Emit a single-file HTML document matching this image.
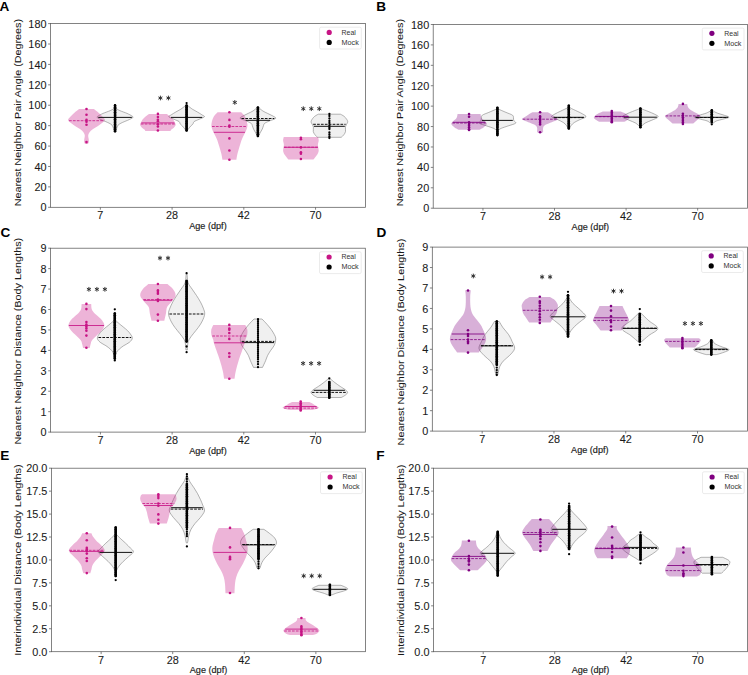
<!DOCTYPE html>
<html><head><meta charset="utf-8"><style>
html,body{margin:0;padding:0;background:#fff;}
svg{display:block;}
text{font-family:"Liberation Sans", sans-serif;fill:#1a1a1a;}
.tk{font-size:10.2px;stroke:#1a1a1a;stroke-width:0.08px;}
.xl{font-size:8.5px;stroke:#1a1a1a;stroke-width:0.15px;}
.yl{font-size:9.8px;stroke:#1a1a1a;stroke-width:0.05px;}
.lg{font-size:6.8px;fill:#333;}
.pl{font-size:13.6px;font-weight:bold;fill:#000;}
.ax{stroke:#5a5a5a;stroke-width:0.75;}
.fr{fill:none;stroke:#5a5a5a;stroke-width:0.75;}
</style></head><body>
<svg width="748" height="675" viewBox="0 0 748 675">
<path d="M114.05,108.60 L116.05,108.60 C116.72,108.95 118.22,109.90 120.05,110.70 C121.88,111.50 125.07,112.52 127.05,113.40 C129.03,114.28 130.98,115.30 131.95,116.00 C132.92,116.70 133.57,116.88 132.85,117.60 C132.13,118.32 129.40,119.48 127.65,120.30 C125.90,121.12 123.95,121.70 122.35,122.50 C120.75,123.30 119.02,124.03 118.05,125.10 C117.08,126.17 116.92,127.92 116.55,128.90 C116.18,129.88 115.97,130.65 115.85,131.00 L114.25,131.00 C114.13,130.65 113.92,129.88 113.55,128.90 C113.18,127.92 113.02,126.17 112.05,125.10 C111.08,124.03 109.35,123.30 107.75,122.50 C106.15,121.70 104.20,121.12 102.45,120.30 C100.70,119.48 97.97,118.32 97.25,117.60 C96.53,116.88 97.18,116.70 98.15,116.00 C99.12,115.30 101.07,114.28 103.05,113.40 C105.03,112.52 108.22,111.50 110.05,110.70 C111.88,109.90 113.38,108.95 114.05,108.60 Z" fill="#f0f0f0" stroke="#6a6a6a" stroke-width="0.5"/>
<path d="M185.10,105.90 L188.10,105.90 C188.82,106.45 190.85,108.18 192.40,109.20 C193.95,110.22 195.82,111.07 197.40,112.00 C198.98,112.93 200.73,114.00 201.90,114.80 C203.07,115.60 204.87,116.05 204.40,116.80 C203.93,117.55 200.82,118.50 199.10,119.30 C197.38,120.10 195.10,120.85 194.10,121.60 C193.10,122.35 193.67,123.05 193.10,123.80 C192.53,124.55 191.53,125.17 190.70,126.10 C189.87,127.03 188.65,128.67 188.10,129.40 C187.55,130.13 187.52,130.32 187.40,130.50 L185.80,130.50 C185.68,130.32 185.65,130.13 185.10,129.40 C184.55,128.67 183.33,127.03 182.50,126.10 C181.67,125.17 180.67,124.55 180.10,123.80 C179.53,123.05 180.10,122.35 179.10,121.60 C178.10,120.85 175.82,120.10 174.10,119.30 C172.38,118.50 169.27,117.55 168.80,116.80 C168.33,116.05 170.13,115.60 171.30,114.80 C172.47,114.00 174.22,112.93 175.80,112.00 C177.38,111.07 179.25,110.22 180.80,109.20 C182.35,108.18 184.38,106.45 185.10,105.90 Z" fill="#f0f0f0" stroke="#6a6a6a" stroke-width="0.5"/>
<path d="M256.40,108.20 L259.40,108.20 C259.98,108.67 261.57,110.15 262.90,111.00 C264.23,111.85 265.90,112.55 267.40,113.30 C268.90,114.05 270.52,114.67 271.90,115.50 C273.28,116.33 276.17,117.37 275.70,118.30 C275.23,119.23 270.95,120.25 269.10,121.10 C267.25,121.95 265.53,122.65 264.60,123.40 C263.67,124.15 263.88,124.67 263.50,125.60 C263.12,126.53 262.82,127.87 262.30,129.00 C261.78,130.13 260.97,131.37 260.40,132.40 C259.83,133.43 259.23,134.57 258.90,135.20 C258.57,135.83 258.48,136.03 258.40,136.20 L257.40,136.20 C257.32,136.03 257.23,135.83 256.90,135.20 C256.57,134.57 255.97,133.43 255.40,132.40 C254.83,131.37 254.02,130.13 253.50,129.00 C252.98,127.87 252.68,126.53 252.30,125.60 C251.92,124.67 252.13,124.15 251.20,123.40 C250.27,122.65 248.55,121.95 246.70,121.10 C244.85,120.25 240.57,119.23 240.10,118.30 C239.63,117.37 242.52,116.33 243.90,115.50 C245.28,114.67 246.90,114.05 248.40,113.30 C249.90,112.55 251.57,111.85 252.90,111.00 C254.23,110.15 255.82,108.67 256.40,108.20 Z" fill="#f0f0f0" stroke="#6a6a6a" stroke-width="0.5"/>
<path d="M318.40,114.20 L340.40,114.20 C340.82,114.42 342.07,114.93 342.90,115.50 C343.73,116.07 344.60,116.60 345.40,117.60 C346.20,118.60 347.55,120.28 347.70,121.50 C347.85,122.72 346.68,123.97 346.30,124.90 C345.92,125.83 345.53,125.98 345.40,127.10 C345.27,128.22 345.73,130.37 345.50,131.60 C345.27,132.83 344.52,133.72 344.00,134.50 C343.48,135.28 342.87,135.83 342.40,136.30 C341.93,136.77 341.40,137.13 341.20,137.30 L317.60,137.30 C317.40,137.13 316.87,136.77 316.40,136.30 C315.93,135.83 315.32,135.28 314.80,134.50 C314.28,133.72 313.53,132.83 313.30,131.60 C313.07,130.37 313.53,128.22 313.40,127.10 C313.27,125.98 312.88,125.83 312.50,124.90 C312.12,123.97 310.95,122.72 311.10,121.50 C311.25,120.28 312.60,118.60 313.40,117.60 C314.20,116.60 315.07,116.07 315.90,115.50 C316.73,114.93 317.98,114.42 318.40,114.20 Z" fill="#f0f0f0" stroke="#6a6a6a" stroke-width="0.5"/>
<path d="M79.05,109.00 L93.95,109.00 C94.76,109.65 97.28,111.53 98.80,112.90 C100.32,114.27 102.08,115.98 103.10,117.20 C104.12,118.42 105.13,119.20 104.90,120.20 C104.67,121.20 102.92,122.18 101.70,123.20 C100.48,124.22 99.10,125.28 97.60,126.30 C96.10,127.32 94.07,128.28 92.70,129.30 C91.33,130.32 90.15,131.38 89.40,132.40 C88.65,133.42 88.32,134.30 88.20,135.40 C88.08,136.50 88.58,137.88 88.70,139.00 C88.82,140.12 89.02,141.28 88.90,142.10 C88.78,142.92 88.15,143.60 88.00,143.90 L85.00,143.90 C84.85,143.60 84.22,142.92 84.10,142.10 C83.98,141.28 84.18,140.12 84.30,139.00 C84.42,137.88 84.92,136.50 84.80,135.40 C84.68,134.30 84.35,133.42 83.60,132.40 C82.85,131.38 81.67,130.32 80.30,129.30 C78.93,128.28 76.90,127.32 75.40,126.30 C73.90,125.28 72.52,124.22 71.30,123.20 C70.08,122.18 68.33,121.20 68.10,120.20 C67.87,119.20 68.88,118.42 69.90,117.20 C70.92,115.98 72.68,114.27 74.20,112.90 C75.72,111.53 78.24,109.65 79.05,109.00 Z" fill="#c71585" fill-opacity="0.32"/>
<path d="M149.05,114.10 L166.75,114.10 C167.51,114.67 170.12,116.45 171.30,117.50 C172.48,118.55 173.07,119.18 173.80,120.40 C174.53,121.62 175.70,123.58 175.70,124.80 C175.70,126.02 174.53,126.90 173.80,127.70 C173.07,128.50 171.85,129.03 171.30,129.60 C170.75,130.17 170.63,130.85 170.50,131.10 L145.30,131.10 C145.17,130.85 145.05,130.17 144.50,129.60 C143.95,129.03 142.73,128.50 142.00,127.70 C141.27,126.90 140.10,126.02 140.10,124.80 C140.10,123.58 141.27,121.62 142.00,120.40 C142.73,119.18 143.32,118.55 144.50,117.50 C145.68,116.45 148.29,114.67 149.05,114.10 Z" fill="#c71585" fill-opacity="0.32"/>
<path d="M217.60,112.20 L241.20,112.20 C241.65,112.67 243.08,113.88 243.90,115.00 C244.72,116.12 245.57,117.32 246.15,118.90 C246.73,120.48 247.26,122.98 247.40,124.50 C247.54,126.02 247.30,126.78 247.00,128.00 C246.70,129.22 246.20,130.45 245.60,131.80 C245.00,133.15 244.10,134.67 243.40,136.10 C242.70,137.53 241.95,138.97 241.40,140.40 C240.85,141.83 240.53,143.27 240.10,144.70 C239.67,146.13 239.25,147.43 238.80,149.00 C238.35,150.57 237.80,152.32 237.40,154.10 C237.00,155.88 236.57,158.77 236.40,159.70 L222.40,159.70 C222.23,158.77 221.80,155.88 221.40,154.10 C221.00,152.32 220.45,150.57 220.00,149.00 C219.55,147.43 219.13,146.13 218.70,144.70 C218.27,143.27 217.95,141.83 217.40,140.40 C216.85,138.97 216.10,137.53 215.40,136.10 C214.70,134.67 213.80,133.15 213.20,131.80 C212.60,130.45 212.10,129.22 211.80,128.00 C211.50,126.78 211.26,126.02 211.40,124.50 C211.54,122.98 212.07,120.48 212.65,118.90 C213.23,117.32 214.08,116.12 214.90,115.00 C215.72,113.88 217.15,112.67 217.60,112.20 Z" fill="#c71585" fill-opacity="0.32"/>
<path d="M283.80,137.05 L318.00,137.05 C318.12,137.61 318.72,139.09 318.70,140.40 C318.68,141.71 317.90,143.22 317.90,144.90 C317.90,146.58 318.80,148.90 318.70,150.50 C318.60,152.10 317.85,153.42 317.30,154.50 C316.75,155.58 316.03,156.17 315.40,157.00 C314.77,157.83 313.82,159.08 313.50,159.50 L288.30,159.50 C287.98,159.08 287.03,157.83 286.40,157.00 C285.77,156.17 285.05,155.58 284.50,154.50 C283.95,153.42 283.20,152.10 283.10,150.50 C283.00,148.90 283.90,146.58 283.90,144.90 C283.90,143.22 283.12,141.71 283.10,140.40 C283.08,139.09 283.68,137.61 283.80,137.05 Z" fill="#c71585" fill-opacity="0.32"/>
<line x1="98.26" y1="117.40" x2="131.84" y2="117.40" stroke="#111" stroke-width="1.0"/>
<line x1="170.97" y1="117.40" x2="202.23" y2="117.40" stroke="#111" stroke-width="1.0"/>
<line x1="241.47" y1="118.50" x2="274.33" y2="118.50" stroke="#111" stroke-width="1.0" stroke-dasharray="2.7,1.2"/>
<line x1="245.71" y1="120.30" x2="270.09" y2="120.30" stroke="#111" stroke-width="1.0"/>
<line x1="313.15" y1="124.30" x2="345.65" y2="124.30" stroke="#111" stroke-width="1.0" stroke-dasharray="2.7,1.2"/>
<line x1="313.97" y1="126.30" x2="344.83" y2="126.30" stroke="#111" stroke-width="1.0"/>
<line x1="69.03" y1="120.70" x2="103.97" y2="120.70" stroke="#c71585" stroke-width="0.9" stroke-opacity="0.9" stroke-dasharray="2.7,1.2"/>
<line x1="140.85" y1="124.00" x2="174.95" y2="124.00" stroke="#c71585" stroke-width="0.9" stroke-opacity="0.9" stroke-dasharray="2.7,1.2"/>
<line x1="141.32" y1="122.90" x2="174.48" y2="122.90" stroke="#c71585" stroke-width="0.95" stroke-opacity="0.9"/>
<line x1="212.03" y1="126.50" x2="246.77" y2="126.50" stroke="#c71585" stroke-width="0.9" stroke-opacity="0.9" stroke-dasharray="2.7,1.2"/>
<line x1="213.86" y1="132.30" x2="244.94" y2="132.30" stroke="#c71585" stroke-width="0.95" stroke-opacity="0.9"/>
<line x1="283.97" y1="147.20" x2="317.83" y2="147.20" stroke="#c71585" stroke-width="0.9" stroke-opacity="0.9" stroke-dasharray="2.7,1.2"/>
<line x1="283.96" y1="147.30" x2="317.84" y2="147.30" stroke="#c71585" stroke-width="0.95" stroke-opacity="0.9"/>
<line x1="115.05" y1="105.40" x2="115.05" y2="131.30" stroke="#000" stroke-width="2.3" stroke-linecap="round"/>
<circle cx="115.05" cy="105.40" r="1.3" fill="#000"/>
<circle cx="115.05" cy="107.13" r="1.3" fill="#000"/>
<circle cx="115.05" cy="108.85" r="1.3" fill="#000"/>
<circle cx="115.05" cy="110.58" r="1.3" fill="#000"/>
<circle cx="115.05" cy="112.31" r="1.3" fill="#000"/>
<circle cx="115.05" cy="114.03" r="1.3" fill="#000"/>
<circle cx="115.05" cy="115.76" r="1.3" fill="#000"/>
<circle cx="115.05" cy="117.49" r="1.3" fill="#000"/>
<circle cx="115.05" cy="119.21" r="1.3" fill="#000"/>
<circle cx="115.05" cy="120.94" r="1.3" fill="#000"/>
<circle cx="115.05" cy="122.67" r="1.3" fill="#000"/>
<circle cx="115.05" cy="124.39" r="1.3" fill="#000"/>
<circle cx="115.05" cy="126.12" r="1.3" fill="#000"/>
<circle cx="115.05" cy="127.85" r="1.3" fill="#000"/>
<circle cx="115.05" cy="129.57" r="1.3" fill="#000"/>
<circle cx="115.05" cy="131.30" r="1.3" fill="#000"/>
<line x1="186.60" y1="105.60" x2="186.60" y2="130.40" stroke="#000" stroke-width="2.3" stroke-linecap="round"/>
<circle cx="186.60" cy="105.60" r="1.3" fill="#000"/>
<circle cx="186.60" cy="107.37" r="1.3" fill="#000"/>
<circle cx="186.60" cy="109.14" r="1.3" fill="#000"/>
<circle cx="186.60" cy="110.91" r="1.3" fill="#000"/>
<circle cx="186.60" cy="112.69" r="1.3" fill="#000"/>
<circle cx="186.60" cy="114.46" r="1.3" fill="#000"/>
<circle cx="186.60" cy="116.23" r="1.3" fill="#000"/>
<circle cx="186.60" cy="118.00" r="1.3" fill="#000"/>
<circle cx="186.60" cy="119.77" r="1.3" fill="#000"/>
<circle cx="186.60" cy="121.54" r="1.3" fill="#000"/>
<circle cx="186.60" cy="123.31" r="1.3" fill="#000"/>
<circle cx="186.60" cy="125.09" r="1.3" fill="#000"/>
<circle cx="186.60" cy="126.86" r="1.3" fill="#000"/>
<circle cx="186.60" cy="128.63" r="1.3" fill="#000"/>
<circle cx="186.60" cy="130.40" r="1.3" fill="#000"/>
<circle cx="186.60" cy="103.10" r="1.15" fill="#000"/>
<line x1="257.90" y1="107.60" x2="257.90" y2="136.00" stroke="#000" stroke-width="2.3" stroke-linecap="round"/>
<circle cx="257.90" cy="107.60" r="1.3" fill="#000"/>
<circle cx="257.90" cy="109.38" r="1.3" fill="#000"/>
<circle cx="257.90" cy="111.15" r="1.3" fill="#000"/>
<circle cx="257.90" cy="112.92" r="1.3" fill="#000"/>
<circle cx="257.90" cy="114.70" r="1.3" fill="#000"/>
<circle cx="257.90" cy="116.47" r="1.3" fill="#000"/>
<circle cx="257.90" cy="118.25" r="1.3" fill="#000"/>
<circle cx="257.90" cy="120.02" r="1.3" fill="#000"/>
<circle cx="257.90" cy="121.80" r="1.3" fill="#000"/>
<circle cx="257.90" cy="123.58" r="1.3" fill="#000"/>
<circle cx="257.90" cy="125.35" r="1.3" fill="#000"/>
<circle cx="257.90" cy="127.12" r="1.3" fill="#000"/>
<circle cx="257.90" cy="128.90" r="1.3" fill="#000"/>
<circle cx="257.90" cy="130.68" r="1.3" fill="#000"/>
<circle cx="257.90" cy="132.45" r="1.3" fill="#000"/>
<circle cx="257.90" cy="134.22" r="1.3" fill="#000"/>
<circle cx="257.90" cy="136.00" r="1.3" fill="#000"/>
<circle cx="329.40" cy="114.00" r="1.15" fill="#000"/>
<circle cx="329.40" cy="116.00" r="1.15" fill="#000"/>
<circle cx="329.40" cy="118.50" r="1.15" fill="#000"/>
<circle cx="329.40" cy="121.00" r="1.15" fill="#000"/>
<circle cx="329.40" cy="123.00" r="1.15" fill="#000"/>
<circle cx="329.40" cy="125.50" r="1.15" fill="#000"/>
<circle cx="329.40" cy="127.50" r="1.15" fill="#000"/>
<circle cx="329.40" cy="129.00" r="1.15" fill="#000"/>
<circle cx="329.40" cy="132.50" r="1.15" fill="#000"/>
<circle cx="329.40" cy="134.50" r="1.15" fill="#000"/>
<circle cx="329.40" cy="136.50" r="1.15" fill="#000"/>
<circle cx="329.40" cy="138.00" r="1.15" fill="#000"/>
<circle cx="86.50" cy="109.00" r="1.3" fill="#c71585"/>
<circle cx="86.50" cy="114.70" r="1.3" fill="#c71585"/>
<circle cx="86.50" cy="119.90" r="1.3" fill="#c71585"/>
<circle cx="86.50" cy="121.70" r="1.3" fill="#c71585"/>
<circle cx="86.50" cy="124.80" r="1.3" fill="#c71585"/>
<circle cx="86.50" cy="142.10" r="1.3" fill="#c71585"/>
<circle cx="157.90" cy="113.90" r="1.3" fill="#c71585"/>
<circle cx="157.90" cy="117.00" r="1.3" fill="#c71585"/>
<circle cx="157.90" cy="119.80" r="1.3" fill="#c71585"/>
<circle cx="157.90" cy="121.20" r="1.3" fill="#c71585"/>
<circle cx="157.90" cy="124.30" r="1.3" fill="#c71585"/>
<circle cx="157.90" cy="126.50" r="1.3" fill="#c71585"/>
<circle cx="157.90" cy="130.50" r="1.3" fill="#c71585"/>
<circle cx="229.40" cy="112.20" r="1.3" fill="#c71585"/>
<circle cx="229.40" cy="119.90" r="1.3" fill="#c71585"/>
<circle cx="229.40" cy="125.50" r="1.3" fill="#c71585"/>
<circle cx="229.40" cy="126.70" r="1.3" fill="#c71585"/>
<circle cx="229.40" cy="138.40" r="1.3" fill="#c71585"/>
<circle cx="229.40" cy="150.50" r="1.3" fill="#c71585"/>
<circle cx="229.40" cy="159.70" r="1.3" fill="#c71585"/>
<circle cx="300.90" cy="137.80" r="1.3" fill="#c71585"/>
<circle cx="300.90" cy="139.20" r="1.3" fill="#c71585"/>
<circle cx="300.90" cy="147.40" r="1.3" fill="#c71585"/>
<circle cx="300.90" cy="152.30" r="1.3" fill="#c71585"/>
<circle cx="300.90" cy="153.70" r="1.3" fill="#c71585"/>
<circle cx="300.90" cy="159.00" r="1.3" fill="#c71585"/>
<path d="M496.40,109.10 L498.40,109.10 C499.67,109.65 503.65,111.38 506.00,112.40 C508.35,113.42 511.25,114.27 512.50,115.20 C513.75,116.13 513.30,117.13 513.50,118.00 C513.70,118.87 513.35,119.53 513.70,120.40 C514.05,121.27 516.57,122.27 515.60,123.20 C514.63,124.13 510.28,125.15 507.90,126.00 C505.52,126.85 502.88,127.60 501.30,128.30 C499.72,129.00 498.88,129.88 498.40,130.20 L496.40,130.20 C495.92,129.88 495.08,129.00 493.50,128.30 C491.92,127.60 489.28,126.85 486.90,126.00 C484.52,125.15 480.17,124.13 479.20,123.20 C478.23,122.27 480.75,121.27 481.10,120.40 C481.45,119.53 481.10,118.87 481.30,118.00 C481.50,117.13 481.05,116.13 482.30,115.20 C483.55,114.27 486.45,113.42 488.80,112.40 C491.15,111.38 495.13,109.65 496.40,109.10 Z" fill="#f0f0f0" stroke="#6a6a6a" stroke-width="0.5"/>
<path d="M567.30,108.00 L570.30,108.00 C571.43,108.53 575.03,110.20 577.10,111.20 C579.17,112.20 581.22,113.07 582.70,114.00 C584.18,114.93 586.47,115.87 586.00,116.80 C585.53,117.73 581.85,118.65 579.90,119.60 C577.95,120.55 575.73,121.55 574.30,122.50 C572.87,123.45 572.05,124.38 571.30,125.30 C570.55,126.22 570.05,127.55 569.80,128.00 L567.80,128.00 C567.55,127.55 567.05,126.22 566.30,125.30 C565.55,124.38 564.73,123.45 563.30,122.50 C561.87,121.55 559.65,120.55 557.70,119.60 C555.75,118.65 552.07,117.73 551.60,116.80 C551.13,115.87 553.42,114.93 554.90,114.00 C556.38,113.07 558.43,112.20 560.50,111.20 C562.57,110.20 566.17,108.53 567.30,108.00 Z" fill="#f0f0f0" stroke="#6a6a6a" stroke-width="0.5"/>
<path d="M638.90,109.00 L641.90,109.00 C642.93,109.40 645.98,110.53 648.10,111.40 C650.22,112.27 652.92,113.27 654.60,114.20 C656.28,115.13 658.67,116.00 658.20,117.00 C657.73,118.00 653.95,119.20 651.80,120.20 C649.65,121.20 647.03,121.98 645.30,123.00 C643.57,124.02 642.05,125.75 641.40,126.30 L639.40,126.30 C638.75,125.75 637.23,124.02 635.50,123.00 C633.77,121.98 631.15,121.20 629.00,120.20 C626.85,119.20 623.07,118.00 622.60,117.00 C622.13,116.00 624.52,115.13 626.20,114.20 C627.88,113.27 630.58,112.27 632.70,111.40 C634.82,110.53 637.87,109.40 638.90,109.00 Z" fill="#f0f0f0" stroke="#6a6a6a" stroke-width="0.5"/>
<path d="M710.80,110.80 L712.80,110.80 C713.55,111.18 715.32,112.33 717.30,113.10 C719.28,113.87 722.75,114.70 724.70,115.40 C726.65,116.10 729.30,116.67 729.00,117.30 C728.70,117.93 725.02,118.58 722.90,119.20 C720.78,119.82 717.98,120.28 716.30,121.00 C714.62,121.72 713.38,123.08 712.80,123.50 L710.80,123.50 C710.22,123.08 708.98,121.72 707.30,121.00 C705.62,120.28 702.82,119.82 700.70,119.20 C698.58,118.58 694.90,117.93 694.60,117.30 C694.30,116.67 696.95,116.10 698.90,115.40 C700.85,114.70 704.32,113.87 706.30,113.10 C708.28,112.33 710.05,111.18 710.80,110.80 Z" fill="#f0f0f0" stroke="#6a6a6a" stroke-width="0.5"/>
<path d="M457.55,114.10 L480.55,114.10 C480.72,114.75 480.80,116.80 481.55,118.00 C482.30,119.20 484.17,120.28 485.05,121.30 C485.93,122.32 487.10,123.08 486.85,124.10 C486.60,125.12 484.80,126.47 483.55,127.40 C482.30,128.33 480.05,129.32 479.35,129.70 L458.75,129.70 C458.05,129.32 455.80,128.33 454.55,127.40 C453.30,126.47 451.50,125.12 451.25,124.10 C451.00,123.08 452.17,122.32 453.05,121.30 C453.93,120.28 455.80,119.20 456.55,118.00 C457.30,116.80 457.38,114.75 457.55,114.10 Z" fill="#800080" fill-opacity="0.31"/>
<path d="M532.40,112.20 L547.80,112.20 C548.67,112.73 551.32,114.23 553.00,115.40 C554.68,116.57 558.25,118.02 557.90,119.20 C557.55,120.38 553.08,121.48 550.90,122.50 C548.72,123.52 546.10,124.37 544.80,125.30 C543.50,126.23 543.38,127.02 543.10,128.10 C542.82,129.18 543.27,131.03 543.10,131.80 C542.93,132.57 542.27,132.55 542.10,132.70 L538.10,132.70 C537.93,132.55 537.27,132.57 537.10,131.80 C536.93,131.03 537.38,129.18 537.10,128.10 C536.82,127.02 536.70,126.23 535.40,125.30 C534.10,124.37 531.48,123.52 529.30,122.50 C527.12,121.48 522.65,120.38 522.30,119.20 C521.95,118.02 525.52,116.57 527.20,115.40 C528.88,114.23 531.53,112.73 532.40,112.20 Z" fill="#800080" fill-opacity="0.31"/>
<path d="M602.70,111.40 L620.90,111.40 C621.72,111.78 624.32,112.70 625.80,113.70 C627.28,114.70 629.60,116.32 629.80,117.40 C630.00,118.48 627.90,119.47 627.00,120.20 C626.10,120.93 624.83,121.53 624.40,121.80 L599.20,121.80 C598.77,121.53 597.50,120.93 596.60,120.20 C595.70,119.47 593.60,118.48 593.80,117.40 C594.00,116.32 596.32,114.70 597.80,113.70 C599.28,112.70 601.88,111.78 602.70,111.40 Z" fill="#800080" fill-opacity="0.31"/>
<path d="M678.60,103.90 L687.20,103.90 C687.33,104.42 687.52,106.08 688.00,107.00 C688.48,107.92 689.00,108.53 690.10,109.40 C691.20,110.27 692.85,111.12 694.60,112.20 C696.35,113.28 700.02,114.73 700.60,115.90 C701.18,117.07 699.33,117.95 698.10,119.20 C696.87,120.45 694.02,122.70 693.20,123.40 L672.60,123.40 C671.78,122.70 668.93,120.45 667.70,119.20 C666.47,117.95 664.62,117.07 665.20,115.90 C665.78,114.73 669.45,113.28 671.20,112.20 C672.95,111.12 674.60,110.27 675.70,109.40 C676.80,108.53 677.32,107.92 677.80,107.00 C678.28,106.08 678.47,104.42 678.60,103.90 Z" fill="#800080" fill-opacity="0.31"/>
<line x1="482.00" y1="120.40" x2="512.80" y2="120.40" stroke="#111" stroke-width="1.0"/>
<line x1="554.24" y1="117.60" x2="583.36" y2="117.60" stroke="#111" stroke-width="1.0" stroke-dasharray="2.7,1.2"/>
<line x1="553.59" y1="117.30" x2="584.01" y2="117.30" stroke="#111" stroke-width="1.0"/>
<line x1="623.90" y1="117.20" x2="656.90" y2="117.20" stroke="#111" stroke-width="1.0"/>
<line x1="696.14" y1="117.50" x2="727.46" y2="117.50" stroke="#111" stroke-width="1.0" stroke-dasharray="2.7,1.2"/>
<line x1="695.50" y1="117.30" x2="728.10" y2="117.30" stroke="#111" stroke-width="1.0"/>
<line x1="452.36" y1="123.00" x2="485.74" y2="123.00" stroke="#800080" stroke-width="0.9" stroke-opacity="0.9" stroke-dasharray="2.7,1.2"/>
<line x1="452.81" y1="122.30" x2="485.29" y2="122.30" stroke="#800080" stroke-width="0.95" stroke-opacity="0.9"/>
<line x1="522.70" y1="119.20" x2="557.50" y2="119.20" stroke="#800080" stroke-width="0.9" stroke-opacity="0.9" stroke-dasharray="2.7,1.2"/>
<line x1="594.96" y1="116.70" x2="628.64" y2="116.70" stroke="#800080" stroke-width="0.9" stroke-opacity="0.9" stroke-dasharray="2.7,1.2"/>
<line x1="595.28" y1="116.40" x2="628.32" y2="116.40" stroke="#800080" stroke-width="0.95" stroke-opacity="0.9"/>
<line x1="665.60" y1="115.90" x2="700.20" y2="115.90" stroke="#800080" stroke-width="0.9" stroke-opacity="0.9" stroke-dasharray="2.7,1.2"/>
<line x1="497.40" y1="107.80" x2="497.40" y2="127.80" stroke="#000" stroke-width="2.3" stroke-linecap="round"/>
<circle cx="497.40" cy="107.80" r="1.3" fill="#000"/>
<circle cx="497.40" cy="109.62" r="1.3" fill="#000"/>
<circle cx="497.40" cy="111.44" r="1.3" fill="#000"/>
<circle cx="497.40" cy="113.25" r="1.3" fill="#000"/>
<circle cx="497.40" cy="115.07" r="1.3" fill="#000"/>
<circle cx="497.40" cy="116.89" r="1.3" fill="#000"/>
<circle cx="497.40" cy="118.71" r="1.3" fill="#000"/>
<circle cx="497.40" cy="120.53" r="1.3" fill="#000"/>
<circle cx="497.40" cy="122.35" r="1.3" fill="#000"/>
<circle cx="497.40" cy="124.16" r="1.3" fill="#000"/>
<circle cx="497.40" cy="125.98" r="1.3" fill="#000"/>
<circle cx="497.40" cy="127.80" r="1.3" fill="#000"/>
<line x1="497.40" y1="129.60" x2="497.40" y2="135.10" stroke="#000" stroke-width="2.3" stroke-linecap="round"/>
<circle cx="497.40" cy="129.60" r="1.3" fill="#000"/>
<circle cx="497.40" cy="131.43" r="1.3" fill="#000"/>
<circle cx="497.40" cy="133.27" r="1.3" fill="#000"/>
<circle cx="497.40" cy="135.10" r="1.3" fill="#000"/>
<line x1="568.80" y1="105.70" x2="568.80" y2="128.40" stroke="#000" stroke-width="2.3" stroke-linecap="round"/>
<circle cx="568.80" cy="105.70" r="1.3" fill="#000"/>
<circle cx="568.80" cy="107.45" r="1.3" fill="#000"/>
<circle cx="568.80" cy="109.19" r="1.3" fill="#000"/>
<circle cx="568.80" cy="110.94" r="1.3" fill="#000"/>
<circle cx="568.80" cy="112.68" r="1.3" fill="#000"/>
<circle cx="568.80" cy="114.43" r="1.3" fill="#000"/>
<circle cx="568.80" cy="116.18" r="1.3" fill="#000"/>
<circle cx="568.80" cy="117.92" r="1.3" fill="#000"/>
<circle cx="568.80" cy="119.67" r="1.3" fill="#000"/>
<circle cx="568.80" cy="121.42" r="1.3" fill="#000"/>
<circle cx="568.80" cy="123.16" r="1.3" fill="#000"/>
<circle cx="568.80" cy="124.91" r="1.3" fill="#000"/>
<circle cx="568.80" cy="126.65" r="1.3" fill="#000"/>
<circle cx="568.80" cy="128.40" r="1.3" fill="#000"/>
<line x1="640.40" y1="108.60" x2="640.40" y2="127.20" stroke="#000" stroke-width="2.3" stroke-linecap="round"/>
<circle cx="640.40" cy="108.60" r="1.3" fill="#000"/>
<circle cx="640.40" cy="110.46" r="1.3" fill="#000"/>
<circle cx="640.40" cy="112.32" r="1.3" fill="#000"/>
<circle cx="640.40" cy="114.18" r="1.3" fill="#000"/>
<circle cx="640.40" cy="116.04" r="1.3" fill="#000"/>
<circle cx="640.40" cy="117.90" r="1.3" fill="#000"/>
<circle cx="640.40" cy="119.76" r="1.3" fill="#000"/>
<circle cx="640.40" cy="121.62" r="1.3" fill="#000"/>
<circle cx="640.40" cy="123.48" r="1.3" fill="#000"/>
<circle cx="640.40" cy="125.34" r="1.3" fill="#000"/>
<circle cx="640.40" cy="127.20" r="1.3" fill="#000"/>
<line x1="711.80" y1="110.40" x2="711.80" y2="122.00" stroke="#000" stroke-width="2.3" stroke-linecap="round"/>
<circle cx="711.80" cy="110.40" r="1.3" fill="#000"/>
<circle cx="711.80" cy="112.33" r="1.3" fill="#000"/>
<circle cx="711.80" cy="114.27" r="1.3" fill="#000"/>
<circle cx="711.80" cy="116.20" r="1.3" fill="#000"/>
<circle cx="711.80" cy="118.13" r="1.3" fill="#000"/>
<circle cx="711.80" cy="120.07" r="1.3" fill="#000"/>
<circle cx="711.80" cy="122.00" r="1.3" fill="#000"/>
<circle cx="711.80" cy="124.30" r="1.15" fill="#000"/>
<circle cx="469.05" cy="114.10" r="1.3" fill="#800080"/>
<circle cx="469.05" cy="116.80" r="1.3" fill="#800080"/>
<circle cx="469.05" cy="122.20" r="1.3" fill="#800080"/>
<circle cx="469.05" cy="124.00" r="1.3" fill="#800080"/>
<circle cx="469.05" cy="125.80" r="1.3" fill="#800080"/>
<circle cx="469.05" cy="127.50" r="1.3" fill="#800080"/>
<circle cx="469.05" cy="129.30" r="1.3" fill="#800080"/>
<circle cx="469.05" cy="130.00" r="1.3" fill="#800080"/>
<circle cx="540.10" cy="112.20" r="1.3" fill="#800080"/>
<circle cx="540.10" cy="116.40" r="1.3" fill="#800080"/>
<circle cx="540.10" cy="118.00" r="1.3" fill="#800080"/>
<circle cx="540.10" cy="119.50" r="1.3" fill="#800080"/>
<circle cx="540.10" cy="121.00" r="1.3" fill="#800080"/>
<circle cx="540.10" cy="122.70" r="1.3" fill="#800080"/>
<circle cx="540.10" cy="124.40" r="1.3" fill="#800080"/>
<circle cx="540.10" cy="132.30" r="1.3" fill="#800080"/>
<circle cx="611.80" cy="111.10" r="1.3" fill="#800080"/>
<circle cx="611.80" cy="112.60" r="1.3" fill="#800080"/>
<circle cx="611.80" cy="114.10" r="1.3" fill="#800080"/>
<circle cx="611.80" cy="115.60" r="1.3" fill="#800080"/>
<circle cx="611.80" cy="117.10" r="1.3" fill="#800080"/>
<circle cx="611.80" cy="118.60" r="1.3" fill="#800080"/>
<circle cx="611.80" cy="120.10" r="1.3" fill="#800080"/>
<circle cx="611.80" cy="121.60" r="1.3" fill="#800080"/>
<circle cx="611.80" cy="122.20" r="1.3" fill="#800080"/>
<circle cx="682.90" cy="103.90" r="1.3" fill="#800080"/>
<circle cx="682.90" cy="113.80" r="1.3" fill="#800080"/>
<circle cx="682.90" cy="115.50" r="1.3" fill="#800080"/>
<circle cx="682.90" cy="117.20" r="1.3" fill="#800080"/>
<circle cx="682.90" cy="119.00" r="1.3" fill="#800080"/>
<circle cx="682.90" cy="120.70" r="1.3" fill="#800080"/>
<circle cx="682.90" cy="122.40" r="1.3" fill="#800080"/>
<circle cx="682.90" cy="124.00" r="1.3" fill="#800080"/>
<path d="M113.80,320.70 L115.80,320.70 C116.63,321.42 119.17,323.63 120.80,325.00 C122.43,326.37 124.17,327.62 125.60,328.90 C127.03,330.18 128.28,331.18 129.40,332.70 C130.52,334.22 132.30,336.40 132.30,338.00 C132.30,339.60 130.83,341.02 129.40,342.30 C127.97,343.58 125.38,344.57 123.70,345.70 C122.02,346.83 120.45,348.05 119.30,349.10 C118.15,350.15 117.38,351.02 116.80,352.00 C116.22,352.98 115.97,354.50 115.80,355.00 L113.80,355.00 C113.63,354.50 113.38,352.98 112.80,352.00 C112.22,351.02 111.45,350.15 110.30,349.10 C109.15,348.05 107.58,346.83 105.90,345.70 C104.22,344.57 101.63,343.58 100.20,342.30 C98.77,341.02 97.30,339.60 97.30,338.00 C97.30,336.40 99.08,334.22 100.20,332.70 C101.32,331.18 102.57,330.18 104.00,328.90 C105.43,327.62 107.17,326.37 108.80,325.00 C110.43,323.63 112.97,321.42 113.80,320.70 Z" fill="#f0f0f0" stroke="#6a6a6a" stroke-width="0.5"/>
<path d="M186.10,274.00 L187.10,274.00 C187.27,275.45 187.27,280.18 188.10,282.70 C188.93,285.22 190.70,286.97 192.10,289.10 C193.50,291.23 195.12,293.37 196.50,295.50 C197.88,297.63 199.27,299.78 200.40,301.90 C201.53,304.02 202.58,306.18 203.30,308.20 C204.02,310.22 204.87,311.87 204.70,314.00 C204.53,316.13 203.35,318.78 202.30,321.00 C201.25,323.22 199.90,325.18 198.40,327.30 C196.90,329.42 194.85,331.67 193.30,333.70 C191.75,335.73 190.02,337.80 189.10,339.50 C188.18,341.20 188.10,342.15 187.80,343.90 C187.50,345.65 187.38,348.98 187.30,350.00 L185.90,350.00 C185.82,348.98 185.70,345.65 185.40,343.90 C185.10,342.15 185.02,341.20 184.10,339.50 C183.18,337.80 181.45,335.73 179.90,333.70 C178.35,331.67 176.30,329.42 174.80,327.30 C173.30,325.18 171.95,323.22 170.90,321.00 C169.85,318.78 168.67,316.13 168.50,314.00 C168.33,311.87 169.18,310.22 169.90,308.20 C170.62,306.18 171.67,304.02 172.80,301.90 C173.93,299.78 175.32,297.63 176.70,295.50 C178.08,293.37 179.70,291.23 181.10,289.10 C182.50,286.97 184.27,285.22 185.10,282.70 C185.93,280.18 185.93,275.45 186.10,274.00 Z" fill="#f0f0f0" stroke="#6a6a6a" stroke-width="0.5"/>
<path d="M254.00,319.00 L262.00,319.00 C262.85,319.90 265.55,322.63 267.10,324.40 C268.65,326.17 270.08,327.88 271.30,329.60 C272.52,331.32 273.65,333.15 274.40,334.70 C275.15,336.25 275.80,337.17 275.80,338.90 C275.80,340.63 275.23,343.20 274.40,345.10 C273.57,347.00 271.93,348.57 270.80,350.30 C269.67,352.03 268.47,353.77 267.60,355.50 C266.73,357.23 266.45,358.72 265.60,360.70 C264.75,362.68 263.02,366.28 262.50,367.40 L253.50,367.40 C252.98,366.28 251.25,362.68 250.40,360.70 C249.55,358.72 249.27,357.23 248.40,355.50 C247.53,353.77 246.33,352.03 245.20,350.30 C244.07,348.57 242.43,347.00 241.60,345.10 C240.77,343.20 240.20,340.63 240.20,338.90 C240.20,337.17 240.85,336.25 241.60,334.70 C242.35,333.15 243.48,331.32 244.70,329.60 C245.92,327.88 247.35,326.17 248.90,324.40 C250.45,322.63 253.15,319.90 254.00,319.00 Z" fill="#f0f0f0" stroke="#6a6a6a" stroke-width="0.5"/>
<path d="M327.80,379.20 L330.80,379.20 C331.48,379.77 333.33,381.40 334.90,382.60 C336.47,383.80 338.45,385.20 340.20,386.40 C341.95,387.60 344.17,388.80 345.40,389.80 C346.63,390.80 347.60,391.52 347.60,392.40 C347.60,393.28 346.45,394.25 345.40,395.10 C344.35,395.95 341.98,397.10 341.30,397.50 L317.30,397.50 C316.62,397.10 314.25,395.95 313.20,395.10 C312.15,394.25 311.00,393.28 311.00,392.40 C311.00,391.52 311.97,390.80 313.20,389.80 C314.43,388.80 316.65,387.60 318.40,386.40 C320.15,385.20 322.13,383.80 323.70,382.60 C325.27,381.40 327.12,379.77 327.80,379.20 Z" fill="#f0f0f0" stroke="#6a6a6a" stroke-width="0.5"/>
<path d="M81.60,303.90 L91.20,303.90 C91.28,304.77 91.27,307.67 91.70,309.10 C92.13,310.53 92.72,311.28 93.80,312.50 C94.88,313.72 96.83,315.12 98.20,316.40 C99.57,317.68 100.97,318.68 102.00,320.20 C103.03,321.72 104.48,323.73 104.40,325.50 C104.32,327.27 102.78,329.12 101.50,330.80 C100.22,332.48 98.30,334.00 96.70,335.60 C95.10,337.20 92.92,338.95 91.90,340.40 C90.88,341.85 90.97,343.02 90.60,344.30 C90.23,345.58 89.85,347.47 89.70,348.10 L83.10,348.10 C82.95,347.47 82.57,345.58 82.20,344.30 C81.83,343.02 81.92,341.85 80.90,340.40 C79.88,338.95 77.70,337.20 76.10,335.60 C74.50,334.00 72.58,332.48 71.30,330.80 C70.02,329.12 68.48,327.27 68.40,325.50 C68.32,323.73 69.77,321.72 70.80,320.20 C71.83,318.68 73.23,317.68 74.60,316.40 C75.97,315.12 77.92,313.72 79.00,312.50 C80.08,311.28 80.67,310.53 81.10,309.10 C81.53,307.67 81.52,304.77 81.60,303.90 Z" fill="#c71585" fill-opacity="0.32"/>
<path d="M148.30,284.00 L167.50,284.00 C168.40,284.85 171.55,287.18 172.90,289.10 C174.25,291.02 175.85,293.37 175.60,295.50 C175.35,297.63 172.82,299.98 171.40,301.90 C169.98,303.82 168.00,305.10 167.10,307.00 C166.20,308.90 166.47,311.02 166.00,313.30 C165.53,315.58 164.58,319.47 164.30,320.70 L151.50,320.70 C151.22,319.47 150.27,315.58 149.80,313.30 C149.33,311.02 149.60,308.90 148.70,307.00 C147.80,305.10 145.82,303.82 144.40,301.90 C142.98,299.98 140.45,297.63 140.20,295.50 C139.95,293.37 141.55,291.02 142.90,289.10 C144.25,287.18 147.40,284.85 148.30,284.00 Z" fill="#c71585" fill-opacity="0.32"/>
<path d="M213.30,324.90 L245.30,324.90 C245.63,325.68 246.98,327.97 247.30,329.60 C247.62,331.23 247.53,332.98 247.20,334.70 C246.87,336.42 245.72,338.52 245.30,339.90 C244.88,341.28 245.22,341.27 244.70,343.00 C244.18,344.73 243.22,347.35 242.20,350.30 C241.18,353.25 239.67,357.23 238.60,360.70 C237.53,364.17 236.48,368.08 235.80,371.10 C235.12,374.12 234.72,377.52 234.50,378.80 L224.10,378.80 C223.88,377.52 223.48,374.12 222.80,371.10 C222.12,368.08 221.07,364.17 220.00,360.70 C218.93,357.23 217.42,353.25 216.40,350.30 C215.38,347.35 214.42,344.73 213.90,343.00 C213.38,341.27 213.72,341.28 213.30,339.90 C212.88,338.52 211.73,336.42 211.40,334.70 C211.07,332.98 210.98,331.23 211.30,329.60 C211.62,327.97 212.97,325.68 213.30,324.90 Z" fill="#c71585" fill-opacity="0.32"/>
<path d="M292.00,402.10 L309.40,402.10 C310.20,402.53 312.63,403.78 314.20,404.70 C315.77,405.62 318.47,406.88 318.80,407.60 C319.13,408.32 317.22,408.60 316.20,409.00 C315.18,409.40 313.28,409.83 312.70,410.00 L288.70,410.00 C288.12,409.83 286.22,409.40 285.20,409.00 C284.18,408.60 282.27,408.32 282.60,407.60 C282.93,406.88 285.63,405.62 287.20,404.70 C288.77,403.78 291.20,402.53 292.00,402.10 Z" fill="#c71585" fill-opacity="0.32"/>
<line x1="98.47" y1="337.50" x2="131.13" y2="337.50" stroke="#111" stroke-width="1.0" stroke-dasharray="2.7,1.2"/>
<line x1="169.40" y1="314.00" x2="203.80" y2="314.00" stroke="#111" stroke-width="1.0" stroke-dasharray="2.7,1.2"/>
<line x1="241.66" y1="341.40" x2="274.34" y2="341.40" stroke="#111" stroke-width="1.0" stroke-dasharray="2.7,1.2"/>
<line x1="241.94" y1="342.60" x2="274.06" y2="342.60" stroke="#111" stroke-width="1.0"/>
<line x1="311.90" y1="392.40" x2="346.70" y2="392.40" stroke="#111" stroke-width="1.0" stroke-dasharray="2.7,1.2"/>
<line x1="313.68" y1="390.30" x2="344.92" y2="390.30" stroke="#111" stroke-width="1.0"/>
<line x1="68.80" y1="325.50" x2="104.00" y2="325.50" stroke="#c71585" stroke-width="0.95" stroke-opacity="0.9"/>
<line x1="143.29" y1="299.60" x2="172.51" y2="299.60" stroke="#c71585" stroke-width="0.9" stroke-opacity="0.9" stroke-dasharray="2.7,1.2"/>
<line x1="143.75" y1="300.30" x2="172.05" y2="300.30" stroke="#c71585" stroke-width="0.95" stroke-opacity="0.9"/>
<line x1="212.28" y1="336.00" x2="246.33" y2="336.00" stroke="#c71585" stroke-width="0.9" stroke-opacity="0.9" stroke-dasharray="2.7,1.2"/>
<line x1="214.26" y1="342.80" x2="244.34" y2="342.80" stroke="#c71585" stroke-width="0.95" stroke-opacity="0.9"/>
<line x1="283.93" y1="408.10" x2="317.47" y2="408.10" stroke="#c71585" stroke-width="0.9" stroke-opacity="0.9" stroke-dasharray="2.7,1.2"/>
<line x1="284.74" y1="406.50" x2="316.66" y2="406.50" stroke="#c71585" stroke-width="0.95" stroke-opacity="0.9"/>
<line x1="114.80" y1="313.50" x2="114.80" y2="358.50" stroke="#000" stroke-width="2.3" stroke-linecap="round"/>
<circle cx="114.80" cy="313.50" r="1.3" fill="#000"/>
<circle cx="114.80" cy="315.23" r="1.3" fill="#000"/>
<circle cx="114.80" cy="316.96" r="1.3" fill="#000"/>
<circle cx="114.80" cy="318.69" r="1.3" fill="#000"/>
<circle cx="114.80" cy="320.42" r="1.3" fill="#000"/>
<circle cx="114.80" cy="322.15" r="1.3" fill="#000"/>
<circle cx="114.80" cy="323.88" r="1.3" fill="#000"/>
<circle cx="114.80" cy="325.62" r="1.3" fill="#000"/>
<circle cx="114.80" cy="327.35" r="1.3" fill="#000"/>
<circle cx="114.80" cy="329.08" r="1.3" fill="#000"/>
<circle cx="114.80" cy="330.81" r="1.3" fill="#000"/>
<circle cx="114.80" cy="332.54" r="1.3" fill="#000"/>
<circle cx="114.80" cy="334.27" r="1.3" fill="#000"/>
<circle cx="114.80" cy="336.00" r="1.3" fill="#000"/>
<circle cx="114.80" cy="337.73" r="1.3" fill="#000"/>
<circle cx="114.80" cy="339.46" r="1.3" fill="#000"/>
<circle cx="114.80" cy="341.19" r="1.3" fill="#000"/>
<circle cx="114.80" cy="342.92" r="1.3" fill="#000"/>
<circle cx="114.80" cy="344.65" r="1.3" fill="#000"/>
<circle cx="114.80" cy="346.38" r="1.3" fill="#000"/>
<circle cx="114.80" cy="348.12" r="1.3" fill="#000"/>
<circle cx="114.80" cy="349.85" r="1.3" fill="#000"/>
<circle cx="114.80" cy="351.58" r="1.3" fill="#000"/>
<circle cx="114.80" cy="353.31" r="1.3" fill="#000"/>
<circle cx="114.80" cy="355.04" r="1.3" fill="#000"/>
<circle cx="114.80" cy="356.77" r="1.3" fill="#000"/>
<circle cx="114.80" cy="358.50" r="1.3" fill="#000"/>
<circle cx="114.80" cy="309.30" r="1.15" fill="#000"/>
<circle cx="114.80" cy="360.40" r="1.15" fill="#000"/>
<line x1="186.60" y1="281.00" x2="186.60" y2="341.50" stroke="#000" stroke-width="2.3" stroke-linecap="round"/>
<circle cx="186.60" cy="281.00" r="1.3" fill="#000"/>
<circle cx="186.60" cy="282.73" r="1.3" fill="#000"/>
<circle cx="186.60" cy="284.46" r="1.3" fill="#000"/>
<circle cx="186.60" cy="286.19" r="1.3" fill="#000"/>
<circle cx="186.60" cy="287.91" r="1.3" fill="#000"/>
<circle cx="186.60" cy="289.64" r="1.3" fill="#000"/>
<circle cx="186.60" cy="291.37" r="1.3" fill="#000"/>
<circle cx="186.60" cy="293.10" r="1.3" fill="#000"/>
<circle cx="186.60" cy="294.83" r="1.3" fill="#000"/>
<circle cx="186.60" cy="296.56" r="1.3" fill="#000"/>
<circle cx="186.60" cy="298.29" r="1.3" fill="#000"/>
<circle cx="186.60" cy="300.01" r="1.3" fill="#000"/>
<circle cx="186.60" cy="301.74" r="1.3" fill="#000"/>
<circle cx="186.60" cy="303.47" r="1.3" fill="#000"/>
<circle cx="186.60" cy="305.20" r="1.3" fill="#000"/>
<circle cx="186.60" cy="306.93" r="1.3" fill="#000"/>
<circle cx="186.60" cy="308.66" r="1.3" fill="#000"/>
<circle cx="186.60" cy="310.39" r="1.3" fill="#000"/>
<circle cx="186.60" cy="312.11" r="1.3" fill="#000"/>
<circle cx="186.60" cy="313.84" r="1.3" fill="#000"/>
<circle cx="186.60" cy="315.57" r="1.3" fill="#000"/>
<circle cx="186.60" cy="317.30" r="1.3" fill="#000"/>
<circle cx="186.60" cy="319.03" r="1.3" fill="#000"/>
<circle cx="186.60" cy="320.76" r="1.3" fill="#000"/>
<circle cx="186.60" cy="322.49" r="1.3" fill="#000"/>
<circle cx="186.60" cy="324.21" r="1.3" fill="#000"/>
<circle cx="186.60" cy="325.94" r="1.3" fill="#000"/>
<circle cx="186.60" cy="327.67" r="1.3" fill="#000"/>
<circle cx="186.60" cy="329.40" r="1.3" fill="#000"/>
<circle cx="186.60" cy="331.13" r="1.3" fill="#000"/>
<circle cx="186.60" cy="332.86" r="1.3" fill="#000"/>
<circle cx="186.60" cy="334.59" r="1.3" fill="#000"/>
<circle cx="186.60" cy="336.31" r="1.3" fill="#000"/>
<circle cx="186.60" cy="338.04" r="1.3" fill="#000"/>
<circle cx="186.60" cy="339.77" r="1.3" fill="#000"/>
<circle cx="186.60" cy="341.50" r="1.3" fill="#000"/>
<circle cx="186.60" cy="273.20" r="1.15" fill="#000"/>
<circle cx="186.60" cy="346.50" r="1.15" fill="#000"/>
<circle cx="186.60" cy="352.20" r="1.15" fill="#000"/>
<circle cx="258.00" cy="319.20" r="1.15" fill="#000"/>
<circle cx="258.00" cy="321.20" r="1.15" fill="#000"/>
<circle cx="258.00" cy="323.20" r="1.15" fill="#000"/>
<circle cx="258.00" cy="325.20" r="1.15" fill="#000"/>
<circle cx="258.00" cy="327.20" r="1.15" fill="#000"/>
<circle cx="258.00" cy="329.20" r="1.15" fill="#000"/>
<circle cx="258.00" cy="331.20" r="1.15" fill="#000"/>
<circle cx="258.00" cy="333.20" r="1.15" fill="#000"/>
<circle cx="258.00" cy="335.20" r="1.15" fill="#000"/>
<circle cx="258.00" cy="337.20" r="1.15" fill="#000"/>
<circle cx="258.00" cy="339.20" r="1.15" fill="#000"/>
<circle cx="258.00" cy="341.20" r="1.15" fill="#000"/>
<circle cx="258.00" cy="343.20" r="1.15" fill="#000"/>
<circle cx="258.00" cy="345.20" r="1.15" fill="#000"/>
<circle cx="258.00" cy="347.20" r="1.15" fill="#000"/>
<circle cx="258.00" cy="349.20" r="1.15" fill="#000"/>
<circle cx="258.00" cy="351.20" r="1.15" fill="#000"/>
<circle cx="258.00" cy="353.20" r="1.15" fill="#000"/>
<circle cx="258.00" cy="355.20" r="1.15" fill="#000"/>
<circle cx="258.00" cy="357.20" r="1.15" fill="#000"/>
<circle cx="258.00" cy="359.20" r="1.15" fill="#000"/>
<circle cx="258.00" cy="361.70" r="1.15" fill="#000"/>
<circle cx="258.00" cy="364.20" r="1.15" fill="#000"/>
<circle cx="258.00" cy="367.20" r="1.15" fill="#000"/>
<line x1="329.30" y1="382.10" x2="329.30" y2="397.80" stroke="#000" stroke-width="2.3" stroke-linecap="round"/>
<circle cx="329.30" cy="382.10" r="1.3" fill="#000"/>
<circle cx="329.30" cy="383.84" r="1.3" fill="#000"/>
<circle cx="329.30" cy="385.59" r="1.3" fill="#000"/>
<circle cx="329.30" cy="387.33" r="1.3" fill="#000"/>
<circle cx="329.30" cy="389.08" r="1.3" fill="#000"/>
<circle cx="329.30" cy="390.82" r="1.3" fill="#000"/>
<circle cx="329.30" cy="392.57" r="1.3" fill="#000"/>
<circle cx="329.30" cy="394.31" r="1.3" fill="#000"/>
<circle cx="329.30" cy="396.06" r="1.3" fill="#000"/>
<circle cx="329.30" cy="397.80" r="1.3" fill="#000"/>
<circle cx="329.30" cy="378.30" r="1.15" fill="#000"/>
<circle cx="86.40" cy="303.90" r="1.3" fill="#c71585"/>
<circle cx="86.40" cy="309.10" r="1.3" fill="#c71585"/>
<circle cx="86.40" cy="322.10" r="1.3" fill="#c71585"/>
<circle cx="86.40" cy="324.50" r="1.3" fill="#c71585"/>
<circle cx="86.40" cy="326.50" r="1.3" fill="#c71585"/>
<circle cx="86.40" cy="328.40" r="1.3" fill="#c71585"/>
<circle cx="86.40" cy="330.80" r="1.3" fill="#c71585"/>
<circle cx="86.40" cy="335.60" r="1.3" fill="#c71585"/>
<circle cx="86.40" cy="347.80" r="1.3" fill="#c71585"/>
<circle cx="157.90" cy="284.00" r="1.3" fill="#c71585"/>
<circle cx="157.90" cy="290.40" r="1.3" fill="#c71585"/>
<circle cx="157.90" cy="292.00" r="1.3" fill="#c71585"/>
<circle cx="157.90" cy="293.70" r="1.3" fill="#c71585"/>
<circle cx="157.90" cy="299.60" r="1.3" fill="#c71585"/>
<circle cx="157.90" cy="301.00" r="1.3" fill="#c71585"/>
<circle cx="157.90" cy="314.60" r="1.3" fill="#c71585"/>
<circle cx="157.90" cy="320.70" r="1.3" fill="#c71585"/>
<circle cx="229.30" cy="324.90" r="1.3" fill="#c71585"/>
<circle cx="229.30" cy="328.50" r="1.3" fill="#c71585"/>
<circle cx="229.30" cy="329.80" r="1.3" fill="#c71585"/>
<circle cx="229.30" cy="333.00" r="1.3" fill="#c71585"/>
<circle cx="229.30" cy="338.90" r="1.3" fill="#c71585"/>
<circle cx="229.30" cy="353.20" r="1.3" fill="#c71585"/>
<circle cx="229.30" cy="356.70" r="1.3" fill="#c71585"/>
<circle cx="229.30" cy="378.80" r="1.3" fill="#c71585"/>
<circle cx="300.70" cy="401.60" r="1.3" fill="#c71585"/>
<circle cx="300.70" cy="403.20" r="1.3" fill="#c71585"/>
<circle cx="300.70" cy="404.80" r="1.3" fill="#c71585"/>
<circle cx="300.70" cy="406.40" r="1.3" fill="#c71585"/>
<circle cx="300.70" cy="408.00" r="1.3" fill="#c71585"/>
<circle cx="300.70" cy="409.60" r="1.3" fill="#c71585"/>
<circle cx="300.70" cy="410.50" r="1.3" fill="#c71585"/>
<path d="M494.40,321.50 L499.20,321.50 C499.85,322.55 501.52,325.60 503.10,327.80 C504.68,330.00 507.18,332.38 508.70,334.70 C510.22,337.02 511.22,339.37 512.20,341.70 C513.18,344.03 515.07,346.38 514.60,348.70 C514.13,351.02 511.32,353.52 509.40,355.60 C507.48,357.68 504.73,359.33 503.10,361.20 C501.47,363.07 500.40,364.93 499.60,366.80 C498.80,368.67 498.60,371.03 498.30,372.40 C498.00,373.77 497.88,374.57 497.80,375.00 L495.80,375.00 C495.72,374.57 495.60,373.77 495.30,372.40 C495.00,371.03 494.80,368.67 494.00,366.80 C493.20,364.93 492.13,363.07 490.50,361.20 C488.87,359.33 486.12,357.68 484.20,355.60 C482.28,353.52 479.47,351.02 479.00,348.70 C478.53,346.38 480.42,344.03 481.40,341.70 C482.38,339.37 483.38,337.02 484.90,334.70 C486.42,332.38 488.92,330.00 490.50,327.80 C492.08,325.60 493.75,322.55 494.40,321.50 Z" fill="#f0f0f0" stroke="#6a6a6a" stroke-width="0.5"/>
<path d="M566.50,298.50 L569.50,298.50 C570.07,299.30 571.45,301.70 572.90,303.30 C574.35,304.90 576.45,306.48 578.20,308.10 C579.95,309.72 582.13,311.55 583.40,313.00 C584.67,314.45 586.12,315.53 585.80,316.80 C585.48,318.07 583.02,319.32 581.50,320.60 C579.98,321.88 578.13,323.22 576.70,324.50 C575.27,325.78 574.02,327.02 572.90,328.30 C571.78,329.58 570.65,331.08 570.00,332.20 C569.35,333.32 569.17,334.53 569.00,335.00 L567.00,335.00 C566.83,334.53 566.65,333.32 566.00,332.20 C565.35,331.08 564.22,329.58 563.10,328.30 C561.98,327.02 560.73,325.78 559.30,324.50 C557.87,323.22 556.02,321.88 554.50,320.60 C552.98,319.32 550.52,318.07 550.20,316.80 C549.88,315.53 551.33,314.45 552.60,313.00 C553.87,311.55 556.05,309.72 557.80,308.10 C559.55,306.48 561.65,304.90 563.10,303.30 C564.55,301.70 565.93,299.30 566.50,298.50 Z" fill="#f0f0f0" stroke="#6a6a6a" stroke-width="0.5"/>
<path d="M638.80,313.00 L640.80,313.00 C642.13,314.28 645.97,318.13 648.80,320.70 C651.63,323.27 657.80,325.93 657.80,328.40 C657.80,330.87 651.63,333.18 648.80,335.50 C645.97,337.82 642.13,341.17 640.80,342.30 L638.80,342.30 C637.47,341.17 633.63,337.82 630.80,335.50 C627.97,333.18 621.80,330.87 621.80,328.40 C621.80,325.93 627.97,323.27 630.80,320.70 C633.63,318.13 637.47,314.28 638.80,313.00 Z" fill="#f0f0f0" stroke="#6a6a6a" stroke-width="0.5"/>
<path d="M709.80,340.70 L712.80,340.70 C713.12,341.17 713.38,342.55 714.70,343.50 C716.02,344.45 718.73,345.58 720.70,346.40 C722.67,347.22 725.10,347.83 726.50,348.40 C727.90,348.97 729.27,349.25 729.10,349.80 C728.93,350.35 727.07,351.05 725.50,351.70 C723.93,352.35 721.23,353.22 719.70,353.70 C718.17,354.18 716.87,354.45 716.30,354.60 L706.30,354.60 C705.73,354.45 704.43,354.18 702.90,353.70 C701.37,353.22 698.67,352.35 697.10,351.70 C695.53,351.05 693.67,350.35 693.50,349.80 C693.33,349.25 694.70,348.97 696.10,348.40 C697.50,347.83 699.93,347.22 701.90,346.40 C703.87,345.58 706.58,344.45 707.90,343.50 C709.22,342.55 709.48,341.17 709.80,340.70 Z" fill="#f0f0f0" stroke="#6a6a6a" stroke-width="0.5"/>
<path d="M465.20,290.20 L470.80,290.20 C470.70,291.35 470.25,294.32 470.20,297.10 C470.15,299.88 470.12,304.10 470.50,306.90 C470.88,309.70 471.48,311.82 472.50,313.90 C473.52,315.98 475.22,317.55 476.60,319.40 C477.98,321.25 479.65,323.13 480.80,325.00 C481.95,326.87 482.62,328.40 483.50,330.60 C484.38,332.80 485.97,335.88 486.10,338.20 C486.23,340.52 485.52,342.10 484.30,344.50 C483.08,346.90 479.72,351.25 478.80,352.60 L457.20,352.60 C456.28,351.25 452.92,346.90 451.70,344.50 C450.48,342.10 449.77,340.52 449.90,338.20 C450.03,335.88 451.62,332.80 452.50,330.60 C453.38,328.40 454.05,326.87 455.20,325.00 C456.35,323.13 458.02,321.25 459.40,319.40 C460.78,317.55 462.48,315.98 463.50,313.90 C464.52,311.82 465.12,309.70 465.50,306.90 C465.88,304.10 465.85,299.88 465.80,297.10 C465.75,294.32 465.30,291.35 465.20,290.20 Z" fill="#800080" fill-opacity="0.31"/>
<path d="M529.70,297.10 L549.90,297.10 C550.78,297.65 553.92,299.20 555.20,300.40 C556.48,301.60 557.17,303.17 557.60,304.30 C558.03,305.43 557.97,305.75 557.80,307.20 C557.63,308.65 557.30,311.23 556.60,313.00 C555.90,314.77 554.63,316.20 553.60,317.80 C552.57,319.40 550.93,321.80 550.40,322.60 L529.20,322.60 C528.67,321.80 527.03,319.40 526.00,317.80 C524.97,316.20 523.70,314.77 523.00,313.00 C522.30,311.23 521.97,308.65 521.80,307.20 C521.63,305.75 521.57,305.43 522.00,304.30 C522.43,303.17 523.12,301.60 524.40,300.40 C525.68,299.20 528.82,297.65 529.70,297.10 Z" fill="#800080" fill-opacity="0.31"/>
<path d="M599.50,306.10 L622.50,306.10 C623.02,307.17 624.68,310.63 625.60,312.50 C626.52,314.37 627.43,315.93 628.00,317.30 C628.57,318.67 629.40,319.42 629.00,320.70 C628.60,321.98 626.87,323.35 625.60,325.00 C624.33,326.65 622.10,329.67 621.40,330.60 L600.60,330.60 C599.90,329.67 597.67,326.65 596.40,325.00 C595.13,323.35 593.40,321.98 593.00,320.70 C592.60,319.42 593.43,318.67 594.00,317.30 C594.57,315.93 595.48,314.37 596.40,312.50 C597.32,310.63 598.98,307.17 599.50,306.10 Z" fill="#800080" fill-opacity="0.31"/>
<path d="M665.80,338.30 L699.00,338.30 C699.28,338.62 700.73,339.33 700.70,340.20 C700.67,341.07 699.52,342.53 698.80,343.50 C698.08,344.47 697.02,345.35 696.40,346.00 C695.78,346.65 695.32,347.17 695.10,347.40 L669.70,347.40 C669.48,347.17 669.02,346.65 668.40,346.00 C667.78,345.35 666.72,344.47 666.00,343.50 C665.28,342.53 664.13,341.07 664.10,340.20 C664.07,339.33 665.52,338.62 665.80,338.30 Z" fill="#800080" fill-opacity="0.31"/>
<line x1="480.96" y1="345.60" x2="512.64" y2="345.60" stroke="#111" stroke-width="1.0" stroke-dasharray="2.7,1.2"/>
<line x1="480.86" y1="345.90" x2="512.74" y2="345.90" stroke="#111" stroke-width="1.0"/>
<line x1="551.10" y1="316.80" x2="584.90" y2="316.80" stroke="#111" stroke-width="1.0"/>
<line x1="622.93" y1="328.20" x2="656.67" y2="328.20" stroke="#111" stroke-width="1.0" stroke-dasharray="2.7,1.2"/>
<line x1="622.70" y1="328.40" x2="656.90" y2="328.40" stroke="#111" stroke-width="1.0"/>
<line x1="694.77" y1="349.60" x2="727.83" y2="349.60" stroke="#111" stroke-width="1.0" stroke-dasharray="2.7,1.2"/>
<line x1="695.70" y1="349.10" x2="726.90" y2="349.10" stroke="#111" stroke-width="1.0"/>
<line x1="450.70" y1="339.60" x2="485.30" y2="339.60" stroke="#800080" stroke-width="0.9" stroke-opacity="0.9" stroke-dasharray="2.7,1.2"/>
<line x1="451.74" y1="334.00" x2="484.26" y2="334.00" stroke="#800080" stroke-width="0.95" stroke-opacity="0.9"/>
<line x1="522.84" y1="310.30" x2="556.76" y2="310.30" stroke="#800080" stroke-width="0.9" stroke-opacity="0.9" stroke-dasharray="2.7,1.2"/>
<line x1="593.49" y1="320.40" x2="628.51" y2="320.40" stroke="#800080" stroke-width="0.9" stroke-opacity="0.9" stroke-dasharray="2.7,1.2"/>
<line x1="594.25" y1="317.80" x2="627.75" y2="317.80" stroke="#800080" stroke-width="0.95" stroke-opacity="0.9"/>
<line x1="665.19" y1="341.40" x2="699.61" y2="341.40" stroke="#800080" stroke-width="0.9" stroke-opacity="0.9" stroke-dasharray="2.7,1.2"/>
<line x1="496.80" y1="321.50" x2="496.80" y2="364.80" stroke="#000" stroke-width="2.3" stroke-linecap="round"/>
<circle cx="496.80" cy="321.50" r="1.3" fill="#000"/>
<circle cx="496.80" cy="323.23" r="1.3" fill="#000"/>
<circle cx="496.80" cy="324.96" r="1.3" fill="#000"/>
<circle cx="496.80" cy="326.70" r="1.3" fill="#000"/>
<circle cx="496.80" cy="328.43" r="1.3" fill="#000"/>
<circle cx="496.80" cy="330.16" r="1.3" fill="#000"/>
<circle cx="496.80" cy="331.89" r="1.3" fill="#000"/>
<circle cx="496.80" cy="333.62" r="1.3" fill="#000"/>
<circle cx="496.80" cy="335.36" r="1.3" fill="#000"/>
<circle cx="496.80" cy="337.09" r="1.3" fill="#000"/>
<circle cx="496.80" cy="338.82" r="1.3" fill="#000"/>
<circle cx="496.80" cy="340.55" r="1.3" fill="#000"/>
<circle cx="496.80" cy="342.28" r="1.3" fill="#000"/>
<circle cx="496.80" cy="344.02" r="1.3" fill="#000"/>
<circle cx="496.80" cy="345.75" r="1.3" fill="#000"/>
<circle cx="496.80" cy="347.48" r="1.3" fill="#000"/>
<circle cx="496.80" cy="349.21" r="1.3" fill="#000"/>
<circle cx="496.80" cy="350.94" r="1.3" fill="#000"/>
<circle cx="496.80" cy="352.68" r="1.3" fill="#000"/>
<circle cx="496.80" cy="354.41" r="1.3" fill="#000"/>
<circle cx="496.80" cy="356.14" r="1.3" fill="#000"/>
<circle cx="496.80" cy="357.87" r="1.3" fill="#000"/>
<circle cx="496.80" cy="359.60" r="1.3" fill="#000"/>
<circle cx="496.80" cy="361.34" r="1.3" fill="#000"/>
<circle cx="496.80" cy="363.07" r="1.3" fill="#000"/>
<circle cx="496.80" cy="364.80" r="1.3" fill="#000"/>
<circle cx="496.80" cy="367.60" r="1.15" fill="#000"/>
<circle cx="496.80" cy="370.10" r="1.15" fill="#000"/>
<circle cx="496.80" cy="372.60" r="1.15" fill="#000"/>
<circle cx="496.80" cy="375.00" r="1.15" fill="#000"/>
<line x1="568.00" y1="295.30" x2="568.00" y2="336.40" stroke="#000" stroke-width="2.3" stroke-linecap="round"/>
<circle cx="568.00" cy="295.30" r="1.3" fill="#000"/>
<circle cx="568.00" cy="297.01" r="1.3" fill="#000"/>
<circle cx="568.00" cy="298.73" r="1.3" fill="#000"/>
<circle cx="568.00" cy="300.44" r="1.3" fill="#000"/>
<circle cx="568.00" cy="302.15" r="1.3" fill="#000"/>
<circle cx="568.00" cy="303.86" r="1.3" fill="#000"/>
<circle cx="568.00" cy="305.57" r="1.3" fill="#000"/>
<circle cx="568.00" cy="307.29" r="1.3" fill="#000"/>
<circle cx="568.00" cy="309.00" r="1.3" fill="#000"/>
<circle cx="568.00" cy="310.71" r="1.3" fill="#000"/>
<circle cx="568.00" cy="312.43" r="1.3" fill="#000"/>
<circle cx="568.00" cy="314.14" r="1.3" fill="#000"/>
<circle cx="568.00" cy="315.85" r="1.3" fill="#000"/>
<circle cx="568.00" cy="317.56" r="1.3" fill="#000"/>
<circle cx="568.00" cy="319.27" r="1.3" fill="#000"/>
<circle cx="568.00" cy="320.99" r="1.3" fill="#000"/>
<circle cx="568.00" cy="322.70" r="1.3" fill="#000"/>
<circle cx="568.00" cy="324.41" r="1.3" fill="#000"/>
<circle cx="568.00" cy="326.12" r="1.3" fill="#000"/>
<circle cx="568.00" cy="327.84" r="1.3" fill="#000"/>
<circle cx="568.00" cy="329.55" r="1.3" fill="#000"/>
<circle cx="568.00" cy="331.26" r="1.3" fill="#000"/>
<circle cx="568.00" cy="332.97" r="1.3" fill="#000"/>
<circle cx="568.00" cy="334.69" r="1.3" fill="#000"/>
<circle cx="568.00" cy="336.40" r="1.3" fill="#000"/>
<circle cx="568.00" cy="291.80" r="1.15" fill="#000"/>
<line x1="639.80" y1="314.00" x2="639.80" y2="341.40" stroke="#000" stroke-width="2.3" stroke-linecap="round"/>
<circle cx="639.80" cy="314.00" r="1.3" fill="#000"/>
<circle cx="639.80" cy="315.71" r="1.3" fill="#000"/>
<circle cx="639.80" cy="317.43" r="1.3" fill="#000"/>
<circle cx="639.80" cy="319.14" r="1.3" fill="#000"/>
<circle cx="639.80" cy="320.85" r="1.3" fill="#000"/>
<circle cx="639.80" cy="322.56" r="1.3" fill="#000"/>
<circle cx="639.80" cy="324.27" r="1.3" fill="#000"/>
<circle cx="639.80" cy="325.99" r="1.3" fill="#000"/>
<circle cx="639.80" cy="327.70" r="1.3" fill="#000"/>
<circle cx="639.80" cy="329.41" r="1.3" fill="#000"/>
<circle cx="639.80" cy="331.12" r="1.3" fill="#000"/>
<circle cx="639.80" cy="332.84" r="1.3" fill="#000"/>
<circle cx="639.80" cy="334.55" r="1.3" fill="#000"/>
<circle cx="639.80" cy="336.26" r="1.3" fill="#000"/>
<circle cx="639.80" cy="337.97" r="1.3" fill="#000"/>
<circle cx="639.80" cy="339.69" r="1.3" fill="#000"/>
<circle cx="639.80" cy="341.40" r="1.3" fill="#000"/>
<circle cx="639.80" cy="309.10" r="1.15" fill="#000"/>
<circle cx="639.80" cy="344.80" r="1.15" fill="#000"/>
<line x1="711.30" y1="340.40" x2="711.30" y2="354.60" stroke="#000" stroke-width="2.3" stroke-linecap="round"/>
<circle cx="711.30" cy="340.40" r="1.3" fill="#000"/>
<circle cx="711.30" cy="342.17" r="1.3" fill="#000"/>
<circle cx="711.30" cy="343.95" r="1.3" fill="#000"/>
<circle cx="711.30" cy="345.73" r="1.3" fill="#000"/>
<circle cx="711.30" cy="347.50" r="1.3" fill="#000"/>
<circle cx="711.30" cy="349.27" r="1.3" fill="#000"/>
<circle cx="711.30" cy="351.05" r="1.3" fill="#000"/>
<circle cx="711.30" cy="352.83" r="1.3" fill="#000"/>
<circle cx="711.30" cy="354.60" r="1.3" fill="#000"/>
<circle cx="468.00" cy="290.50" r="1.3" fill="#800080"/>
<circle cx="468.00" cy="330.30" r="1.3" fill="#800080"/>
<circle cx="468.00" cy="334.00" r="1.3" fill="#800080"/>
<circle cx="468.00" cy="336.00" r="1.3" fill="#800080"/>
<circle cx="468.00" cy="339.60" r="1.3" fill="#800080"/>
<circle cx="468.00" cy="341.50" r="1.3" fill="#800080"/>
<circle cx="468.00" cy="343.10" r="1.3" fill="#800080"/>
<circle cx="468.00" cy="352.60" r="1.3" fill="#800080"/>
<circle cx="539.80" cy="296.80" r="1.3" fill="#800080"/>
<circle cx="539.80" cy="301.40" r="1.3" fill="#800080"/>
<circle cx="539.80" cy="303.00" r="1.3" fill="#800080"/>
<circle cx="539.80" cy="305.70" r="1.3" fill="#800080"/>
<circle cx="539.80" cy="308.50" r="1.3" fill="#800080"/>
<circle cx="539.80" cy="311.20" r="1.3" fill="#800080"/>
<circle cx="539.80" cy="314.40" r="1.3" fill="#800080"/>
<circle cx="539.80" cy="317.30" r="1.3" fill="#800080"/>
<circle cx="539.80" cy="319.70" r="1.3" fill="#800080"/>
<circle cx="539.80" cy="322.90" r="1.3" fill="#800080"/>
<circle cx="611.00" cy="306.10" r="1.3" fill="#800080"/>
<circle cx="611.00" cy="310.60" r="1.3" fill="#800080"/>
<circle cx="611.00" cy="316.40" r="1.3" fill="#800080"/>
<circle cx="611.00" cy="320.20" r="1.3" fill="#800080"/>
<circle cx="611.00" cy="322.10" r="1.3" fill="#800080"/>
<circle cx="611.00" cy="326.50" r="1.3" fill="#800080"/>
<circle cx="611.00" cy="330.30" r="1.3" fill="#800080"/>
<circle cx="682.40" cy="338.00" r="1.3" fill="#800080"/>
<circle cx="682.40" cy="339.60" r="1.3" fill="#800080"/>
<circle cx="682.40" cy="341.20" r="1.3" fill="#800080"/>
<circle cx="682.40" cy="342.80" r="1.3" fill="#800080"/>
<circle cx="682.40" cy="344.40" r="1.3" fill="#800080"/>
<circle cx="682.40" cy="346.00" r="1.3" fill="#800080"/>
<circle cx="682.40" cy="347.60" r="1.3" fill="#800080"/>
<circle cx="682.40" cy="348.30" r="1.3" fill="#800080"/>
<path d="M114.70,534.60 L116.70,534.60 C117.30,535.23 118.82,536.97 120.30,538.40 C121.78,539.83 123.92,541.58 125.60,543.20 C127.28,544.82 129.10,546.65 130.40,548.10 C131.70,549.55 133.72,550.47 133.40,551.90 C133.08,553.33 130.20,555.10 128.50,556.70 C126.80,558.30 124.80,559.90 123.20,561.50 C121.60,563.10 119.98,564.85 118.90,566.30 C117.82,567.75 117.07,569.55 116.70,570.20 L114.70,570.20 C114.33,569.55 113.58,567.75 112.50,566.30 C111.42,564.85 109.80,563.10 108.20,561.50 C106.60,559.90 104.60,558.30 102.90,556.70 C101.20,555.10 98.32,553.33 98.00,551.90 C97.68,550.47 99.70,549.55 101.00,548.10 C102.30,546.65 104.12,544.82 105.80,543.20 C107.48,541.58 109.62,539.83 111.10,538.40 C112.58,536.97 114.10,535.23 114.70,534.60 Z" fill="#f0f0f0" stroke="#6a6a6a" stroke-width="0.5"/>
<path d="M185.90,477.10 L187.90,477.10 C188.23,477.88 188.88,480.02 189.90,481.80 C190.92,483.58 192.72,485.82 194.00,487.80 C195.28,489.78 196.52,491.73 197.60,493.70 C198.68,495.67 199.62,497.63 200.50,499.60 C201.38,501.57 202.23,503.62 202.90,505.50 C203.57,507.38 204.90,508.92 204.50,510.90 C204.10,512.88 202.05,515.33 200.50,517.40 C198.95,519.47 196.77,521.33 195.20,523.30 C193.63,525.27 192.15,527.23 191.10,529.20 C190.05,531.17 189.43,533.12 188.90,535.10 C188.37,537.08 188.15,539.78 187.90,541.10 C187.65,542.42 187.48,542.68 187.40,543.00 L186.40,543.00 C186.32,542.68 186.15,542.42 185.90,541.10 C185.65,539.78 185.43,537.08 184.90,535.10 C184.37,533.12 183.75,531.17 182.70,529.20 C181.65,527.23 180.17,525.27 178.60,523.30 C177.03,521.33 174.85,519.47 173.30,517.40 C171.75,515.33 169.70,512.88 169.30,510.90 C168.90,508.92 170.23,507.38 170.90,505.50 C171.57,503.62 172.42,501.57 173.30,499.60 C174.18,497.63 175.12,495.67 176.20,493.70 C177.28,491.73 178.52,489.78 179.80,487.80 C181.08,485.82 182.88,483.58 183.90,481.80 C184.92,480.02 185.57,477.88 185.90,477.10 Z" fill="#f0f0f0" stroke="#6a6a6a" stroke-width="0.5"/>
<path d="M253.10,529.30 L263.90,529.30 C264.82,529.97 267.63,531.88 269.40,533.30 C271.17,534.72 273.32,536.22 274.50,537.80 C275.68,539.38 276.60,541.12 276.50,542.80 C276.40,544.48 275.08,546.12 273.90,547.90 C272.72,549.68 270.90,551.80 269.40,553.50 C267.90,555.20 266.15,556.58 264.90,558.10 C263.65,559.62 262.72,560.92 261.90,562.60 C261.08,564.28 260.32,567.27 260.00,568.20 L257.00,568.20 C256.68,567.27 255.92,564.28 255.10,562.60 C254.28,560.92 253.35,559.62 252.10,558.10 C250.85,556.58 249.10,555.20 247.60,553.50 C246.10,551.80 244.28,549.68 243.10,547.90 C241.92,546.12 240.60,544.48 240.50,542.80 C240.40,541.12 241.32,539.38 242.50,537.80 C243.68,536.22 245.83,534.72 247.60,533.30 C249.37,531.88 252.18,529.97 253.10,529.30 Z" fill="#f0f0f0" stroke="#6a6a6a" stroke-width="0.5"/>
<path d="M318.80,585.30 L341.00,585.30 C341.73,585.62 344.27,586.57 345.40,587.20 C346.53,587.83 348.12,588.45 347.80,589.10 C347.48,589.75 345.33,590.45 343.50,591.10 C341.67,591.75 338.73,592.37 336.80,593.00 C334.87,593.63 332.72,594.58 331.90,594.90 L327.90,594.90 C327.08,594.58 324.93,593.63 323.00,593.00 C321.07,592.37 318.13,591.75 316.30,591.10 C314.47,590.45 312.32,589.75 312.00,589.10 C311.68,588.45 313.27,587.83 314.40,587.20 C315.53,586.57 318.07,585.62 318.80,585.30 Z" fill="#f0f0f0" stroke="#6a6a6a" stroke-width="0.5"/>
<path d="M82.20,533.30 L91.40,533.30 C91.65,533.83 92.12,535.32 92.90,536.50 C93.68,537.68 94.73,538.95 96.10,540.40 C97.47,541.85 99.65,543.52 101.10,545.20 C102.55,546.88 104.88,548.73 104.80,550.50 C104.72,552.27 102.10,554.12 100.60,555.80 C99.10,557.48 97.17,559.00 95.80,560.60 C94.43,562.20 93.12,563.97 92.40,565.40 C91.68,566.83 91.85,567.88 91.50,569.20 C91.15,570.52 90.50,572.62 90.30,573.30 L83.30,573.30 C83.10,572.62 82.45,570.52 82.10,569.20 C81.75,567.88 81.92,566.83 81.20,565.40 C80.48,563.97 79.17,562.20 77.80,560.60 C76.43,559.00 74.50,557.48 73.00,555.80 C71.50,554.12 68.88,552.27 68.80,550.50 C68.72,548.73 71.05,546.88 72.50,545.20 C73.95,543.52 76.13,541.85 77.50,540.40 C78.87,538.95 79.92,537.68 80.70,536.50 C81.48,535.32 81.95,533.83 82.20,533.30 Z" fill="#c71585" fill-opacity="0.32"/>
<path d="M142.15,494.20 L174.55,494.20 C174.77,494.42 175.52,494.75 175.85,495.50 C176.18,496.25 176.57,497.68 176.55,498.70 C176.52,499.72 176.07,500.72 175.70,501.60 C175.33,502.48 174.81,503.30 174.35,504.00 C173.89,504.70 173.43,505.20 172.95,505.80 C172.47,506.40 171.95,506.62 171.45,507.60 C170.95,508.58 170.42,510.02 169.95,511.70 C169.47,513.38 169.12,515.72 168.60,517.70 C168.07,519.68 167.10,522.62 166.80,523.60 L149.90,523.60 C149.60,522.62 148.62,519.68 148.10,517.70 C147.57,515.72 147.22,513.38 146.75,511.70 C146.28,510.02 145.75,508.58 145.25,507.60 C144.75,506.62 144.23,506.40 143.75,505.80 C143.27,505.20 142.81,504.70 142.35,504.00 C141.89,503.30 141.37,502.48 141.00,501.60 C140.63,500.72 140.18,499.72 140.15,498.70 C140.12,497.68 140.52,496.25 140.85,495.50 C141.18,494.75 141.93,494.42 142.15,494.20 Z" fill="#c71585" fill-opacity="0.32"/>
<path d="M218.70,527.90 L241.30,527.90 C241.75,528.80 243.27,531.47 244.00,533.30 C244.73,535.13 245.08,536.47 245.70,538.90 C246.32,541.33 247.58,545.08 247.70,547.90 C247.82,550.72 247.20,553.17 246.40,555.80 C245.60,558.43 244.13,561.25 242.90,563.70 C241.67,566.15 240.12,568.25 239.00,570.50 C237.88,572.75 236.87,574.95 236.20,577.20 C235.53,579.45 235.28,581.33 235.00,584.00 C234.72,586.67 234.58,591.67 234.50,593.20 L225.50,593.20 C225.42,591.67 225.28,586.67 225.00,584.00 C224.72,581.33 224.47,579.45 223.80,577.20 C223.13,574.95 222.12,572.75 221.00,570.50 C219.88,568.25 218.33,566.15 217.10,563.70 C215.87,561.25 214.40,558.43 213.60,555.80 C212.80,553.17 212.18,550.72 212.30,547.90 C212.42,545.08 213.68,541.33 214.30,538.90 C214.92,536.47 215.27,535.13 216.00,533.30 C216.73,531.47 218.25,528.80 218.70,527.90 Z" fill="#c71585" fill-opacity="0.32"/>
<path d="M297.30,618.00 L305.50,618.00 C305.58,618.40 305.43,619.60 306.00,620.40 C306.57,621.20 307.70,622.00 308.90,622.80 C310.10,623.60 311.93,624.40 313.20,625.20 C314.47,626.00 315.47,626.72 316.50,627.60 C317.53,628.48 319.30,629.53 319.40,630.50 C319.50,631.47 318.17,632.67 317.10,633.40 C316.03,634.13 313.68,634.65 313.00,634.90 L289.80,634.90 C289.12,634.65 286.77,634.13 285.70,633.40 C284.63,632.67 283.30,631.47 283.40,630.50 C283.50,629.53 285.27,628.48 286.30,627.60 C287.33,626.72 288.33,626.00 289.60,625.20 C290.87,624.40 292.70,623.60 293.90,622.80 C295.10,622.00 296.23,621.20 296.80,620.40 C297.37,619.60 297.22,618.40 297.30,618.00 Z" fill="#c71585" fill-opacity="0.32"/>
<line x1="99.41" y1="552.40" x2="131.99" y2="552.40" stroke="#111" stroke-width="1.0"/>
<line x1="170.73" y1="509.10" x2="203.07" y2="509.10" stroke="#111" stroke-width="1.0" stroke-dasharray="2.7,1.2"/>
<line x1="171.15" y1="507.70" x2="202.65" y2="507.70" stroke="#111" stroke-width="1.0"/>
<line x1="242.27" y1="544.50" x2="274.73" y2="544.50" stroke="#111" stroke-width="1.0" stroke-dasharray="2.7,1.2"/>
<line x1="242.47" y1="544.90" x2="274.53" y2="544.90" stroke="#111" stroke-width="1.0"/>
<line x1="313.33" y1="589.30" x2="346.47" y2="589.30" stroke="#111" stroke-width="1.0"/>
<line x1="69.34" y1="550.30" x2="104.26" y2="550.30" stroke="#c71585" stroke-width="0.9" stroke-opacity="0.9" stroke-dasharray="2.7,1.2"/>
<line x1="69.91" y1="551.40" x2="103.69" y2="551.40" stroke="#c71585" stroke-width="0.95" stroke-opacity="0.9"/>
<line x1="142.47" y1="503.50" x2="174.23" y2="503.50" stroke="#c71585" stroke-width="0.9" stroke-opacity="0.9" stroke-dasharray="2.7,1.2"/>
<line x1="143.92" y1="505.50" x2="172.78" y2="505.50" stroke="#c71585" stroke-width="0.95" stroke-opacity="0.9"/>
<line x1="213.44" y1="552.40" x2="246.56" y2="552.40" stroke="#c71585" stroke-width="0.95" stroke-opacity="0.9"/>
<line x1="284.20" y1="631.00" x2="318.60" y2="631.00" stroke="#c71585" stroke-width="0.9" stroke-opacity="0.9" stroke-dasharray="2.7,1.2"/>
<line x1="285.20" y1="629.10" x2="317.60" y2="629.10" stroke="#c71585" stroke-width="0.95" stroke-opacity="0.9"/>
<line x1="115.70" y1="527.50" x2="115.70" y2="576.00" stroke="#000" stroke-width="2.3" stroke-linecap="round"/>
<circle cx="115.70" cy="527.50" r="1.3" fill="#000"/>
<circle cx="115.70" cy="529.23" r="1.3" fill="#000"/>
<circle cx="115.70" cy="530.96" r="1.3" fill="#000"/>
<circle cx="115.70" cy="532.70" r="1.3" fill="#000"/>
<circle cx="115.70" cy="534.43" r="1.3" fill="#000"/>
<circle cx="115.70" cy="536.16" r="1.3" fill="#000"/>
<circle cx="115.70" cy="537.89" r="1.3" fill="#000"/>
<circle cx="115.70" cy="539.62" r="1.3" fill="#000"/>
<circle cx="115.70" cy="541.36" r="1.3" fill="#000"/>
<circle cx="115.70" cy="543.09" r="1.3" fill="#000"/>
<circle cx="115.70" cy="544.82" r="1.3" fill="#000"/>
<circle cx="115.70" cy="546.55" r="1.3" fill="#000"/>
<circle cx="115.70" cy="548.29" r="1.3" fill="#000"/>
<circle cx="115.70" cy="550.02" r="1.3" fill="#000"/>
<circle cx="115.70" cy="551.75" r="1.3" fill="#000"/>
<circle cx="115.70" cy="553.48" r="1.3" fill="#000"/>
<circle cx="115.70" cy="555.21" r="1.3" fill="#000"/>
<circle cx="115.70" cy="556.95" r="1.3" fill="#000"/>
<circle cx="115.70" cy="558.68" r="1.3" fill="#000"/>
<circle cx="115.70" cy="560.41" r="1.3" fill="#000"/>
<circle cx="115.70" cy="562.14" r="1.3" fill="#000"/>
<circle cx="115.70" cy="563.88" r="1.3" fill="#000"/>
<circle cx="115.70" cy="565.61" r="1.3" fill="#000"/>
<circle cx="115.70" cy="567.34" r="1.3" fill="#000"/>
<circle cx="115.70" cy="569.07" r="1.3" fill="#000"/>
<circle cx="115.70" cy="570.80" r="1.3" fill="#000"/>
<circle cx="115.70" cy="572.54" r="1.3" fill="#000"/>
<circle cx="115.70" cy="574.27" r="1.3" fill="#000"/>
<circle cx="115.70" cy="576.00" r="1.3" fill="#000"/>
<circle cx="115.70" cy="580.10" r="1.15" fill="#000"/>
<line x1="186.90" y1="484.00" x2="186.90" y2="527.50" stroke="#000" stroke-width="2.3" stroke-linecap="round"/>
<circle cx="186.90" cy="484.00" r="1.3" fill="#000"/>
<circle cx="186.90" cy="485.74" r="1.3" fill="#000"/>
<circle cx="186.90" cy="487.48" r="1.3" fill="#000"/>
<circle cx="186.90" cy="489.22" r="1.3" fill="#000"/>
<circle cx="186.90" cy="490.96" r="1.3" fill="#000"/>
<circle cx="186.90" cy="492.70" r="1.3" fill="#000"/>
<circle cx="186.90" cy="494.44" r="1.3" fill="#000"/>
<circle cx="186.90" cy="496.18" r="1.3" fill="#000"/>
<circle cx="186.90" cy="497.92" r="1.3" fill="#000"/>
<circle cx="186.90" cy="499.66" r="1.3" fill="#000"/>
<circle cx="186.90" cy="501.40" r="1.3" fill="#000"/>
<circle cx="186.90" cy="503.14" r="1.3" fill="#000"/>
<circle cx="186.90" cy="504.88" r="1.3" fill="#000"/>
<circle cx="186.90" cy="506.62" r="1.3" fill="#000"/>
<circle cx="186.90" cy="508.36" r="1.3" fill="#000"/>
<circle cx="186.90" cy="510.10" r="1.3" fill="#000"/>
<circle cx="186.90" cy="511.84" r="1.3" fill="#000"/>
<circle cx="186.90" cy="513.58" r="1.3" fill="#000"/>
<circle cx="186.90" cy="515.32" r="1.3" fill="#000"/>
<circle cx="186.90" cy="517.06" r="1.3" fill="#000"/>
<circle cx="186.90" cy="518.80" r="1.3" fill="#000"/>
<circle cx="186.90" cy="520.54" r="1.3" fill="#000"/>
<circle cx="186.90" cy="522.28" r="1.3" fill="#000"/>
<circle cx="186.90" cy="524.02" r="1.3" fill="#000"/>
<circle cx="186.90" cy="525.76" r="1.3" fill="#000"/>
<circle cx="186.90" cy="527.50" r="1.3" fill="#000"/>
<circle cx="186.90" cy="474.20" r="1.15" fill="#000"/>
<circle cx="186.90" cy="476.50" r="1.15" fill="#000"/>
<circle cx="186.90" cy="479.00" r="1.15" fill="#000"/>
<circle cx="186.90" cy="481.50" r="1.15" fill="#000"/>
<circle cx="186.90" cy="529.50" r="1.15" fill="#000"/>
<circle cx="186.90" cy="531.80" r="1.15" fill="#000"/>
<circle cx="186.90" cy="534.00" r="1.15" fill="#000"/>
<circle cx="186.90" cy="536.20" r="1.15" fill="#000"/>
<circle cx="186.90" cy="546.40" r="1.15" fill="#000"/>
<line x1="258.50" y1="529.30" x2="258.50" y2="558.50" stroke="#000" stroke-width="2.3" stroke-linecap="round"/>
<circle cx="258.50" cy="529.30" r="1.3" fill="#000"/>
<circle cx="258.50" cy="531.02" r="1.3" fill="#000"/>
<circle cx="258.50" cy="532.74" r="1.3" fill="#000"/>
<circle cx="258.50" cy="534.45" r="1.3" fill="#000"/>
<circle cx="258.50" cy="536.17" r="1.3" fill="#000"/>
<circle cx="258.50" cy="537.89" r="1.3" fill="#000"/>
<circle cx="258.50" cy="539.61" r="1.3" fill="#000"/>
<circle cx="258.50" cy="541.32" r="1.3" fill="#000"/>
<circle cx="258.50" cy="543.04" r="1.3" fill="#000"/>
<circle cx="258.50" cy="544.76" r="1.3" fill="#000"/>
<circle cx="258.50" cy="546.48" r="1.3" fill="#000"/>
<circle cx="258.50" cy="548.19" r="1.3" fill="#000"/>
<circle cx="258.50" cy="549.91" r="1.3" fill="#000"/>
<circle cx="258.50" cy="551.63" r="1.3" fill="#000"/>
<circle cx="258.50" cy="553.35" r="1.3" fill="#000"/>
<circle cx="258.50" cy="555.06" r="1.3" fill="#000"/>
<circle cx="258.50" cy="556.78" r="1.3" fill="#000"/>
<circle cx="258.50" cy="558.50" r="1.3" fill="#000"/>
<circle cx="258.50" cy="559.50" r="1.15" fill="#000"/>
<circle cx="258.50" cy="561.70" r="1.15" fill="#000"/>
<circle cx="258.50" cy="564.00" r="1.15" fill="#000"/>
<circle cx="258.50" cy="566.30" r="1.15" fill="#000"/>
<circle cx="258.50" cy="568.30" r="1.15" fill="#000"/>
<line x1="329.90" y1="584.80" x2="329.90" y2="594.90" stroke="#000" stroke-width="2.3" stroke-linecap="round"/>
<circle cx="329.90" cy="584.80" r="1.3" fill="#000"/>
<circle cx="329.90" cy="586.82" r="1.3" fill="#000"/>
<circle cx="329.90" cy="588.84" r="1.3" fill="#000"/>
<circle cx="329.90" cy="590.86" r="1.3" fill="#000"/>
<circle cx="329.90" cy="592.88" r="1.3" fill="#000"/>
<circle cx="329.90" cy="594.90" r="1.3" fill="#000"/>
<circle cx="86.80" cy="533.30" r="1.3" fill="#c71585"/>
<circle cx="86.80" cy="540.20" r="1.3" fill="#c71585"/>
<circle cx="86.80" cy="547.90" r="1.3" fill="#c71585"/>
<circle cx="86.80" cy="549.50" r="1.3" fill="#c71585"/>
<circle cx="86.80" cy="551.00" r="1.3" fill="#c71585"/>
<circle cx="86.80" cy="553.60" r="1.3" fill="#c71585"/>
<circle cx="86.80" cy="558.20" r="1.3" fill="#c71585"/>
<circle cx="86.80" cy="561.00" r="1.3" fill="#c71585"/>
<circle cx="86.80" cy="573.10" r="1.3" fill="#c71585"/>
<circle cx="158.35" cy="494.20" r="1.3" fill="#c71585"/>
<circle cx="158.35" cy="496.00" r="1.3" fill="#c71585"/>
<circle cx="158.35" cy="498.10" r="1.3" fill="#c71585"/>
<circle cx="158.35" cy="503.50" r="1.3" fill="#c71585"/>
<circle cx="158.35" cy="505.80" r="1.3" fill="#c71585"/>
<circle cx="158.35" cy="514.40" r="1.3" fill="#c71585"/>
<circle cx="158.35" cy="519.70" r="1.3" fill="#c71585"/>
<circle cx="158.35" cy="523.60" r="1.3" fill="#c71585"/>
<circle cx="230.00" cy="527.90" r="1.3" fill="#c71585"/>
<circle cx="230.00" cy="547.40" r="1.3" fill="#c71585"/>
<circle cx="230.00" cy="556.90" r="1.3" fill="#c71585"/>
<circle cx="230.00" cy="558.00" r="1.3" fill="#c71585"/>
<circle cx="230.00" cy="559.20" r="1.3" fill="#c71585"/>
<circle cx="230.00" cy="593.00" r="1.3" fill="#c71585"/>
<circle cx="301.40" cy="618.00" r="1.3" fill="#c71585"/>
<circle cx="301.40" cy="626.40" r="1.3" fill="#c71585"/>
<circle cx="301.40" cy="628.00" r="1.3" fill="#c71585"/>
<circle cx="301.40" cy="629.60" r="1.3" fill="#c71585"/>
<circle cx="301.40" cy="631.20" r="1.3" fill="#c71585"/>
<circle cx="301.40" cy="632.80" r="1.3" fill="#c71585"/>
<circle cx="301.40" cy="634.40" r="1.3" fill="#c71585"/>
<circle cx="301.40" cy="635.20" r="1.3" fill="#c71585"/>
<path d="M496.70,533.30 L498.70,533.30 C498.98,534.02 499.57,536.08 500.40,537.60 C501.23,539.12 502.33,540.80 503.70,542.40 C505.07,544.00 506.98,545.75 508.60,547.20 C510.22,548.65 512.32,550.05 513.40,551.10 C514.48,552.15 515.43,552.53 515.10,553.50 C514.77,554.47 512.82,555.53 511.40,556.90 C509.98,558.27 508.03,560.10 506.60,561.70 C505.17,563.30 503.95,565.07 502.80,566.50 C501.65,567.93 500.38,569.38 499.70,570.30 C499.02,571.22 498.87,571.72 498.70,572.00 L496.70,572.00 C496.53,571.72 496.38,571.22 495.70,570.30 C495.02,569.38 493.75,567.93 492.60,566.50 C491.45,565.07 490.23,563.30 488.80,561.70 C487.37,560.10 485.42,558.27 484.00,556.90 C482.58,555.53 480.63,554.47 480.30,553.50 C479.97,552.53 480.92,552.15 482.00,551.10 C483.08,550.05 485.18,548.65 486.80,547.20 C488.42,545.75 490.33,544.00 491.70,542.40 C493.07,540.80 494.17,539.12 495.00,537.60 C495.83,536.08 496.42,534.02 496.70,533.30 Z" fill="#f0f0f0" stroke="#6a6a6a" stroke-width="0.5"/>
<path d="M567.60,509.80 L570.60,509.80 C571.12,510.38 572.45,511.97 573.70,513.30 C574.95,514.63 576.70,516.32 578.10,517.80 C579.50,519.28 580.92,520.87 582.10,522.20 C583.28,523.53 584.40,524.62 585.20,525.80 C586.00,526.98 587.18,527.97 586.90,529.30 C586.62,530.63 584.82,532.47 583.50,533.80 C582.18,535.13 580.48,535.97 579.00,537.30 C577.52,538.63 575.85,540.32 574.60,541.80 C573.35,543.28 572.25,544.87 571.50,546.20 C570.75,547.53 570.33,549.20 570.10,549.80 L568.10,549.80 C567.87,549.20 567.45,547.53 566.70,546.20 C565.95,544.87 564.85,543.28 563.60,541.80 C562.35,540.32 560.68,538.63 559.20,537.30 C557.72,535.97 556.02,535.13 554.70,533.80 C553.38,532.47 551.58,530.63 551.30,529.30 C551.02,527.97 552.20,526.98 553.00,525.80 C553.80,524.62 554.92,523.53 556.10,522.20 C557.28,520.87 558.70,519.28 560.10,517.80 C561.50,516.32 563.25,514.63 564.50,513.30 C565.75,511.97 567.08,510.38 567.60,509.80 Z" fill="#f0f0f0" stroke="#6a6a6a" stroke-width="0.5"/>
<path d="M638.50,534.40 L642.50,534.40 C643.22,534.97 645.45,536.83 646.80,537.80 C648.15,538.77 649.57,539.32 650.60,540.20 C651.63,541.08 651.67,541.82 653.00,543.10 C654.33,544.38 658.20,546.45 658.60,547.90 C659.00,549.35 656.88,550.52 655.40,551.80 C653.92,553.08 651.45,554.48 649.70,555.60 C647.95,556.72 646.18,557.70 644.90,558.50 C643.62,559.30 642.48,560.08 642.00,560.40 L639.00,560.40 C638.52,560.08 637.38,559.30 636.10,558.50 C634.82,557.70 633.05,556.72 631.30,555.60 C629.55,554.48 627.08,553.08 625.60,551.80 C624.12,550.52 622.00,549.35 622.40,547.90 C622.80,546.45 626.67,544.38 628.00,543.10 C629.33,541.82 629.37,541.08 630.40,540.20 C631.43,539.32 632.85,538.77 634.20,537.80 C635.55,536.83 637.78,534.97 638.50,534.40 Z" fill="#f0f0f0" stroke="#6a6a6a" stroke-width="0.5"/>
<path d="M701.05,557.30 L722.75,557.30 C723.71,557.78 727.31,559.32 728.50,560.20 C729.69,561.08 729.92,561.72 729.90,562.60 C729.88,563.48 729.08,564.45 728.40,565.50 C727.72,566.55 726.94,567.62 725.80,568.90 C724.66,570.18 722.26,572.48 721.55,573.20 L702.25,573.20 C701.54,572.48 699.14,570.18 698.00,568.90 C696.86,567.62 696.08,566.55 695.40,565.50 C694.72,564.45 693.92,563.48 693.90,562.60 C693.88,561.72 694.11,561.08 695.30,560.20 C696.49,559.32 700.09,557.78 701.05,557.30 Z" fill="#f0f0f0" stroke="#6a6a6a" stroke-width="0.5"/>
<path d="M461.90,540.50 L475.90,540.50 C476.02,541.30 476.13,543.93 476.60,545.30 C477.07,546.67 477.70,547.57 478.70,548.70 C479.70,549.83 481.47,550.90 482.60,552.10 C483.73,553.30 484.78,554.62 485.50,555.90 C486.22,557.18 487.07,558.52 486.90,559.80 C486.73,561.08 485.55,562.32 484.50,563.60 C483.45,564.88 481.75,566.38 480.60,567.50 C479.45,568.62 478.10,569.83 477.60,570.30 L460.20,570.30 C459.70,569.83 458.35,568.62 457.20,567.50 C456.05,566.38 454.35,564.88 453.30,563.60 C452.25,562.32 451.07,561.08 450.90,559.80 C450.73,558.52 451.58,557.18 452.30,555.90 C453.02,554.62 454.07,553.30 455.20,552.10 C456.33,550.90 458.10,549.83 459.10,548.70 C460.10,547.57 460.73,546.67 461.20,545.30 C461.67,543.93 461.78,541.30 461.90,540.50 Z" fill="#800080" fill-opacity="0.31"/>
<path d="M531.70,519.00 L549.10,519.00 C549.68,519.67 551.37,521.53 552.60,523.00 C553.83,524.47 555.48,526.12 556.50,527.80 C557.52,529.48 558.87,531.33 558.70,533.10 C558.53,534.87 556.75,536.55 555.50,538.40 C554.25,540.25 552.55,542.08 551.20,544.20 C549.85,546.32 548.03,549.95 547.40,551.10 L533.40,551.10 C532.77,549.95 530.95,546.32 529.60,544.20 C528.25,542.08 526.55,540.25 525.30,538.40 C524.05,536.55 522.27,534.87 522.10,533.10 C521.93,531.33 523.28,529.48 524.30,527.80 C525.32,526.12 526.97,524.47 528.20,523.00 C529.43,521.53 531.12,519.67 531.70,519.00 Z" fill="#800080" fill-opacity="0.31"/>
<path d="M607.50,526.00 L616.70,526.00 C616.77,526.60 616.47,528.20 617.10,529.60 C617.73,531.00 619.32,532.80 620.50,534.40 C621.68,536.00 623.03,537.58 624.20,539.20 C625.37,540.82 626.53,542.33 627.50,544.10 C628.47,545.87 629.75,548.05 630.00,549.80 C630.25,551.55 629.53,553.18 629.00,554.60 C628.47,556.02 627.17,557.68 626.80,558.30 L597.40,558.30 C597.03,557.68 595.73,556.02 595.20,554.60 C594.67,553.18 593.95,551.55 594.20,549.80 C594.45,548.05 595.73,545.87 596.70,544.10 C597.67,542.33 598.83,540.82 600.00,539.20 C601.17,537.58 602.52,536.00 603.70,534.40 C604.88,532.80 606.47,531.00 607.10,529.60 C607.73,528.20 607.43,526.60 607.50,526.00 Z" fill="#800080" fill-opacity="0.31"/>
<path d="M675.90,547.50 L690.90,547.50 C690.98,548.33 691.12,551.02 691.40,552.50 C691.68,553.98 691.93,555.12 692.60,556.40 C693.27,557.68 694.32,558.92 695.40,560.20 C696.48,561.48 698.12,562.82 699.10,564.10 C700.08,565.38 700.88,566.78 701.30,567.90 C701.72,569.02 701.77,569.75 701.60,570.80 C701.43,571.85 700.73,573.40 700.30,574.20 C699.87,575.00 699.52,575.23 699.00,575.60 C698.48,575.97 697.50,576.27 697.20,576.40 L669.60,576.40 C669.30,576.27 668.32,575.97 667.80,575.60 C667.28,575.23 666.93,575.00 666.50,574.20 C666.07,573.40 665.37,571.85 665.20,570.80 C665.03,569.75 665.08,569.02 665.50,567.90 C665.92,566.78 666.72,565.38 667.70,564.10 C668.68,562.82 670.32,561.48 671.40,560.20 C672.48,558.92 673.53,557.68 674.20,556.40 C674.87,555.12 675.12,553.98 675.40,552.50 C675.68,551.02 675.82,548.33 675.90,547.50 Z" fill="#800080" fill-opacity="0.31"/>
<line x1="481.34" y1="553.30" x2="514.06" y2="553.30" stroke="#111" stroke-width="1.0"/>
<line x1="552.20" y1="529.30" x2="586.00" y2="529.30" stroke="#111" stroke-width="1.0"/>
<line x1="623.71" y1="548.40" x2="657.29" y2="548.40" stroke="#111" stroke-width="1.0" stroke-dasharray="2.7,1.2"/>
<line x1="623.88" y1="547.40" x2="657.12" y2="547.40" stroke="#111" stroke-width="1.0"/>
<line x1="696.04" y1="565.00" x2="727.76" y2="565.00" stroke="#111" stroke-width="1.0" stroke-dasharray="2.7,1.2"/>
<line x1="695.78" y1="564.50" x2="728.02" y2="564.50" stroke="#111" stroke-width="1.0"/>
<line x1="451.73" y1="558.60" x2="486.07" y2="558.60" stroke="#800080" stroke-width="0.9" stroke-opacity="0.9" stroke-dasharray="2.7,1.2"/>
<line x1="452.52" y1="556.40" x2="485.28" y2="556.40" stroke="#800080" stroke-width="0.95" stroke-opacity="0.9"/>
<line x1="522.75" y1="532.50" x2="558.05" y2="532.50" stroke="#800080" stroke-width="0.9" stroke-opacity="0.9" stroke-dasharray="2.7,1.2"/>
<line x1="523.28" y1="534.40" x2="557.52" y2="534.40" stroke="#800080" stroke-width="0.95" stroke-opacity="0.9"/>
<line x1="595.35" y1="548.10" x2="628.85" y2="548.10" stroke="#800080" stroke-width="0.9" stroke-opacity="0.9" stroke-dasharray="2.7,1.2"/>
<line x1="595.13" y1="548.60" x2="629.07" y2="548.60" stroke="#800080" stroke-width="0.95" stroke-opacity="0.9"/>
<line x1="665.62" y1="570.60" x2="701.18" y2="570.60" stroke="#800080" stroke-width="0.9" stroke-opacity="0.9" stroke-dasharray="2.7,1.2"/>
<line x1="667.29" y1="565.50" x2="699.51" y2="565.50" stroke="#800080" stroke-width="0.95" stroke-opacity="0.9"/>
<line x1="497.70" y1="531.90" x2="497.70" y2="575.50" stroke="#000" stroke-width="2.3" stroke-linecap="round"/>
<circle cx="497.70" cy="531.90" r="1.3" fill="#000"/>
<circle cx="497.70" cy="533.64" r="1.3" fill="#000"/>
<circle cx="497.70" cy="535.39" r="1.3" fill="#000"/>
<circle cx="497.70" cy="537.13" r="1.3" fill="#000"/>
<circle cx="497.70" cy="538.88" r="1.3" fill="#000"/>
<circle cx="497.70" cy="540.62" r="1.3" fill="#000"/>
<circle cx="497.70" cy="542.36" r="1.3" fill="#000"/>
<circle cx="497.70" cy="544.11" r="1.3" fill="#000"/>
<circle cx="497.70" cy="545.85" r="1.3" fill="#000"/>
<circle cx="497.70" cy="547.60" r="1.3" fill="#000"/>
<circle cx="497.70" cy="549.34" r="1.3" fill="#000"/>
<circle cx="497.70" cy="551.08" r="1.3" fill="#000"/>
<circle cx="497.70" cy="552.83" r="1.3" fill="#000"/>
<circle cx="497.70" cy="554.57" r="1.3" fill="#000"/>
<circle cx="497.70" cy="556.32" r="1.3" fill="#000"/>
<circle cx="497.70" cy="558.06" r="1.3" fill="#000"/>
<circle cx="497.70" cy="559.80" r="1.3" fill="#000"/>
<circle cx="497.70" cy="561.55" r="1.3" fill="#000"/>
<circle cx="497.70" cy="563.29" r="1.3" fill="#000"/>
<circle cx="497.70" cy="565.04" r="1.3" fill="#000"/>
<circle cx="497.70" cy="566.78" r="1.3" fill="#000"/>
<circle cx="497.70" cy="568.52" r="1.3" fill="#000"/>
<circle cx="497.70" cy="570.27" r="1.3" fill="#000"/>
<circle cx="497.70" cy="572.01" r="1.3" fill="#000"/>
<circle cx="497.70" cy="573.76" r="1.3" fill="#000"/>
<circle cx="497.70" cy="575.50" r="1.3" fill="#000"/>
<line x1="569.10" y1="506.00" x2="569.10" y2="549.00" stroke="#000" stroke-width="2.3" stroke-linecap="round"/>
<circle cx="569.10" cy="506.00" r="1.3" fill="#000"/>
<circle cx="569.10" cy="507.72" r="1.3" fill="#000"/>
<circle cx="569.10" cy="509.44" r="1.3" fill="#000"/>
<circle cx="569.10" cy="511.16" r="1.3" fill="#000"/>
<circle cx="569.10" cy="512.88" r="1.3" fill="#000"/>
<circle cx="569.10" cy="514.60" r="1.3" fill="#000"/>
<circle cx="569.10" cy="516.32" r="1.3" fill="#000"/>
<circle cx="569.10" cy="518.04" r="1.3" fill="#000"/>
<circle cx="569.10" cy="519.76" r="1.3" fill="#000"/>
<circle cx="569.10" cy="521.48" r="1.3" fill="#000"/>
<circle cx="569.10" cy="523.20" r="1.3" fill="#000"/>
<circle cx="569.10" cy="524.92" r="1.3" fill="#000"/>
<circle cx="569.10" cy="526.64" r="1.3" fill="#000"/>
<circle cx="569.10" cy="528.36" r="1.3" fill="#000"/>
<circle cx="569.10" cy="530.08" r="1.3" fill="#000"/>
<circle cx="569.10" cy="531.80" r="1.3" fill="#000"/>
<circle cx="569.10" cy="533.52" r="1.3" fill="#000"/>
<circle cx="569.10" cy="535.24" r="1.3" fill="#000"/>
<circle cx="569.10" cy="536.96" r="1.3" fill="#000"/>
<circle cx="569.10" cy="538.68" r="1.3" fill="#000"/>
<circle cx="569.10" cy="540.40" r="1.3" fill="#000"/>
<circle cx="569.10" cy="542.12" r="1.3" fill="#000"/>
<circle cx="569.10" cy="543.84" r="1.3" fill="#000"/>
<circle cx="569.10" cy="545.56" r="1.3" fill="#000"/>
<circle cx="569.10" cy="547.28" r="1.3" fill="#000"/>
<circle cx="569.10" cy="549.00" r="1.3" fill="#000"/>
<circle cx="569.10" cy="503.60" r="1.15" fill="#000"/>
<circle cx="569.10" cy="554.20" r="1.15" fill="#000"/>
<line x1="640.50" y1="535.40" x2="640.50" y2="559.50" stroke="#000" stroke-width="2.3" stroke-linecap="round"/>
<circle cx="640.50" cy="535.40" r="1.3" fill="#000"/>
<circle cx="640.50" cy="537.12" r="1.3" fill="#000"/>
<circle cx="640.50" cy="538.84" r="1.3" fill="#000"/>
<circle cx="640.50" cy="540.56" r="1.3" fill="#000"/>
<circle cx="640.50" cy="542.29" r="1.3" fill="#000"/>
<circle cx="640.50" cy="544.01" r="1.3" fill="#000"/>
<circle cx="640.50" cy="545.73" r="1.3" fill="#000"/>
<circle cx="640.50" cy="547.45" r="1.3" fill="#000"/>
<circle cx="640.50" cy="549.17" r="1.3" fill="#000"/>
<circle cx="640.50" cy="550.89" r="1.3" fill="#000"/>
<circle cx="640.50" cy="552.61" r="1.3" fill="#000"/>
<circle cx="640.50" cy="554.34" r="1.3" fill="#000"/>
<circle cx="640.50" cy="556.06" r="1.3" fill="#000"/>
<circle cx="640.50" cy="557.78" r="1.3" fill="#000"/>
<circle cx="640.50" cy="559.50" r="1.3" fill="#000"/>
<circle cx="640.50" cy="532.50" r="1.15" fill="#000"/>
<circle cx="640.50" cy="563.30" r="1.15" fill="#000"/>
<line x1="711.90" y1="557.10" x2="711.90" y2="574.20" stroke="#000" stroke-width="2.3" stroke-linecap="round"/>
<circle cx="711.90" cy="557.10" r="1.3" fill="#000"/>
<circle cx="711.90" cy="558.81" r="1.3" fill="#000"/>
<circle cx="711.90" cy="560.52" r="1.3" fill="#000"/>
<circle cx="711.90" cy="562.23" r="1.3" fill="#000"/>
<circle cx="711.90" cy="563.94" r="1.3" fill="#000"/>
<circle cx="711.90" cy="565.65" r="1.3" fill="#000"/>
<circle cx="711.90" cy="567.36" r="1.3" fill="#000"/>
<circle cx="711.90" cy="569.07" r="1.3" fill="#000"/>
<circle cx="711.90" cy="570.78" r="1.3" fill="#000"/>
<circle cx="711.90" cy="572.49" r="1.3" fill="#000"/>
<circle cx="711.90" cy="574.20" r="1.3" fill="#000"/>
<circle cx="468.90" cy="540.80" r="1.3" fill="#800080"/>
<circle cx="468.90" cy="556.10" r="1.3" fill="#800080"/>
<circle cx="468.90" cy="558.60" r="1.3" fill="#800080"/>
<circle cx="468.90" cy="560.30" r="1.3" fill="#800080"/>
<circle cx="468.90" cy="561.50" r="1.3" fill="#800080"/>
<circle cx="468.90" cy="564.60" r="1.3" fill="#800080"/>
<circle cx="468.90" cy="570.30" r="1.3" fill="#800080"/>
<circle cx="540.40" cy="519.50" r="1.3" fill="#800080"/>
<circle cx="540.40" cy="529.80" r="1.3" fill="#800080"/>
<circle cx="540.40" cy="531.40" r="1.3" fill="#800080"/>
<circle cx="540.40" cy="533.00" r="1.3" fill="#800080"/>
<circle cx="540.40" cy="534.60" r="1.3" fill="#800080"/>
<circle cx="540.40" cy="536.20" r="1.3" fill="#800080"/>
<circle cx="540.40" cy="538.90" r="1.3" fill="#800080"/>
<circle cx="540.40" cy="542.30" r="1.3" fill="#800080"/>
<circle cx="540.40" cy="546.10" r="1.3" fill="#800080"/>
<circle cx="540.40" cy="550.90" r="1.3" fill="#800080"/>
<circle cx="612.10" cy="526.60" r="1.3" fill="#800080"/>
<circle cx="612.10" cy="537.50" r="1.3" fill="#800080"/>
<circle cx="612.10" cy="545.80" r="1.3" fill="#800080"/>
<circle cx="612.10" cy="547.00" r="1.3" fill="#800080"/>
<circle cx="612.10" cy="548.40" r="1.3" fill="#800080"/>
<circle cx="612.10" cy="552.00" r="1.3" fill="#800080"/>
<circle cx="612.10" cy="556.60" r="1.3" fill="#800080"/>
<circle cx="612.10" cy="558.00" r="1.3" fill="#800080"/>
<circle cx="683.40" cy="547.50" r="1.3" fill="#800080"/>
<circle cx="683.40" cy="552.50" r="1.3" fill="#800080"/>
<circle cx="683.40" cy="565.50" r="1.3" fill="#800080"/>
<circle cx="683.40" cy="570.80" r="1.3" fill="#800080"/>
<circle cx="683.40" cy="573.20" r="1.3" fill="#800080"/>
<circle cx="683.40" cy="574.60" r="1.3" fill="#800080"/>
<circle cx="683.40" cy="576.10" r="1.3" fill="#800080"/>
<path d="M160.40,95.65 L160.40,100.35 M158.36,96.83 L162.44,99.17 M158.36,99.17 L162.44,96.83" stroke="#2a2a2a" stroke-width="0.95" fill="none" stroke-linecap="butt"/>
<path d="M168.40,95.65 L168.40,100.35 M166.36,96.83 L170.44,99.17 M166.36,99.17 L170.44,96.83" stroke="#2a2a2a" stroke-width="0.95" fill="none" stroke-linecap="butt"/>
<path d="M234.80,100.05 L234.80,104.75 M232.76,101.23 L236.84,103.58 M232.76,103.58 L236.84,101.23" stroke="#2a2a2a" stroke-width="0.95" fill="none" stroke-linecap="butt"/>
<path d="M303.30,106.35 L303.30,111.05 M301.26,107.53 L305.34,109.88 M301.26,109.88 L305.34,107.53" stroke="#2a2a2a" stroke-width="0.95" fill="none" stroke-linecap="butt"/>
<path d="M311.30,106.35 L311.30,111.05 M309.26,107.53 L313.34,109.88 M309.26,109.88 L313.34,107.53" stroke="#2a2a2a" stroke-width="0.95" fill="none" stroke-linecap="butt"/>
<path d="M319.30,106.35 L319.30,111.05 M317.26,107.53 L321.34,109.88 M317.26,109.88 L321.34,107.53" stroke="#2a2a2a" stroke-width="0.95" fill="none" stroke-linecap="butt"/>
<path d="M88.90,286.95 L88.90,291.65 M86.86,288.12 L90.94,290.48 M86.86,290.48 L90.94,288.12" stroke="#2a2a2a" stroke-width="0.95" fill="none" stroke-linecap="butt"/>
<path d="M96.90,286.95 L96.90,291.65 M94.86,288.12 L98.94,290.48 M94.86,290.48 L98.94,288.12" stroke="#2a2a2a" stroke-width="0.95" fill="none" stroke-linecap="butt"/>
<path d="M104.90,286.95 L104.90,291.65 M102.86,288.12 L106.94,290.48 M102.86,290.48 L106.94,288.12" stroke="#2a2a2a" stroke-width="0.95" fill="none" stroke-linecap="butt"/>
<path d="M160.00,255.75 L160.00,260.45 M157.96,256.93 L162.04,259.28 M157.96,259.28 L162.04,256.93" stroke="#2a2a2a" stroke-width="0.95" fill="none" stroke-linecap="butt"/>
<path d="M168.00,255.75 L168.00,260.45 M165.96,256.93 L170.04,259.28 M165.96,259.28 L170.04,256.93" stroke="#2a2a2a" stroke-width="0.95" fill="none" stroke-linecap="butt"/>
<path d="M303.10,361.05 L303.10,365.75 M301.06,362.22 L305.14,364.57 M301.06,364.57 L305.14,362.22" stroke="#2a2a2a" stroke-width="0.95" fill="none" stroke-linecap="butt"/>
<path d="M311.10,361.05 L311.10,365.75 M309.06,362.22 L313.14,364.57 M309.06,364.57 L313.14,362.22" stroke="#2a2a2a" stroke-width="0.95" fill="none" stroke-linecap="butt"/>
<path d="M319.10,361.05 L319.10,365.75 M317.06,362.22 L321.14,364.57 M317.06,364.57 L321.14,362.22" stroke="#2a2a2a" stroke-width="0.95" fill="none" stroke-linecap="butt"/>
<path d="M473.30,273.65 L473.30,278.35 M471.26,274.82 L475.34,277.18 M471.26,277.18 L475.34,274.82" stroke="#2a2a2a" stroke-width="0.95" fill="none" stroke-linecap="butt"/>
<path d="M542.10,274.55 L542.10,279.25 M540.06,275.72 L544.14,278.07 M540.06,278.07 L544.14,275.72" stroke="#2a2a2a" stroke-width="0.95" fill="none" stroke-linecap="butt"/>
<path d="M550.10,274.55 L550.10,279.25 M548.06,275.72 L552.14,278.07 M548.06,278.07 L552.14,275.72" stroke="#2a2a2a" stroke-width="0.95" fill="none" stroke-linecap="butt"/>
<path d="M613.50,288.75 L613.50,293.45 M611.46,289.93 L615.54,292.28 M611.46,292.28 L615.54,289.93" stroke="#2a2a2a" stroke-width="0.95" fill="none" stroke-linecap="butt"/>
<path d="M621.50,288.75 L621.50,293.45 M619.46,289.93 L623.54,292.28 M619.46,292.28 L623.54,289.93" stroke="#2a2a2a" stroke-width="0.95" fill="none" stroke-linecap="butt"/>
<path d="M684.90,321.15 L684.90,325.85 M682.86,322.32 L686.94,324.68 M682.86,324.68 L686.94,322.32" stroke="#2a2a2a" stroke-width="0.95" fill="none" stroke-linecap="butt"/>
<path d="M692.90,321.15 L692.90,325.85 M690.86,322.32 L694.94,324.68 M690.86,324.68 L694.94,322.32" stroke="#2a2a2a" stroke-width="0.95" fill="none" stroke-linecap="butt"/>
<path d="M700.90,321.15 L700.90,325.85 M698.86,322.32 L702.94,324.68 M698.86,324.68 L702.94,322.32" stroke="#2a2a2a" stroke-width="0.95" fill="none" stroke-linecap="butt"/>
<path d="M303.70,573.55 L303.70,578.25 M301.66,574.73 L305.74,577.07 M301.66,577.07 L305.74,574.73" stroke="#2a2a2a" stroke-width="0.95" fill="none" stroke-linecap="butt"/>
<path d="M311.70,573.55 L311.70,578.25 M309.66,574.73 L313.74,577.07 M309.66,577.07 L313.74,574.73" stroke="#2a2a2a" stroke-width="0.95" fill="none" stroke-linecap="butt"/>
<path d="M319.70,573.55 L319.70,578.25 M317.66,574.73 L321.74,577.07 M317.66,577.07 L321.74,574.73" stroke="#2a2a2a" stroke-width="0.95" fill="none" stroke-linecap="butt"/>
<line x1="48.10" y1="207.30" x2="50.50" y2="207.30" class="ax"/>
<text x="46.50" y="211.40" class="tk" text-anchor="end" textLength="6.04" lengthAdjust="spacingAndGlyphs">0</text>
<line x1="48.10" y1="186.89" x2="50.50" y2="186.89" class="ax"/>
<text x="46.50" y="190.99" class="tk" text-anchor="end" textLength="12.09" lengthAdjust="spacingAndGlyphs">20</text>
<line x1="48.10" y1="166.48" x2="50.50" y2="166.48" class="ax"/>
<text x="46.50" y="170.58" class="tk" text-anchor="end" textLength="12.09" lengthAdjust="spacingAndGlyphs">40</text>
<line x1="48.10" y1="146.07" x2="50.50" y2="146.07" class="ax"/>
<text x="46.50" y="150.17" class="tk" text-anchor="end" textLength="12.09" lengthAdjust="spacingAndGlyphs">60</text>
<line x1="48.10" y1="125.66" x2="50.50" y2="125.66" class="ax"/>
<text x="46.50" y="129.76" class="tk" text-anchor="end" textLength="12.09" lengthAdjust="spacingAndGlyphs">80</text>
<line x1="48.10" y1="105.24" x2="50.50" y2="105.24" class="ax"/>
<text x="46.50" y="109.34" class="tk" text-anchor="end" textLength="18.13" lengthAdjust="spacingAndGlyphs">100</text>
<line x1="48.10" y1="84.83" x2="50.50" y2="84.83" class="ax"/>
<text x="46.50" y="88.93" class="tk" text-anchor="end" textLength="18.13" lengthAdjust="spacingAndGlyphs">120</text>
<line x1="48.10" y1="64.42" x2="50.50" y2="64.42" class="ax"/>
<text x="46.50" y="68.52" class="tk" text-anchor="end" textLength="18.13" lengthAdjust="spacingAndGlyphs">140</text>
<line x1="48.10" y1="44.01" x2="50.50" y2="44.01" class="ax"/>
<text x="46.50" y="48.11" class="tk" text-anchor="end" textLength="18.13" lengthAdjust="spacingAndGlyphs">160</text>
<line x1="48.10" y1="23.60" x2="50.50" y2="23.60" class="ax"/>
<text x="46.50" y="27.70" class="tk" text-anchor="end" textLength="18.13" lengthAdjust="spacingAndGlyphs">180</text>
<line x1="100.35" y1="207.30" x2="100.35" y2="209.70" class="ax"/>
<text x="100.35" y="219.10" class="tk" text-anchor="middle" textLength="6.04" lengthAdjust="spacingAndGlyphs">7</text>
<line x1="172.08" y1="207.30" x2="172.08" y2="209.70" class="ax"/>
<text x="172.08" y="219.10" class="tk" text-anchor="middle" textLength="12.09" lengthAdjust="spacingAndGlyphs">28</text>
<line x1="243.82" y1="207.30" x2="243.82" y2="209.70" class="ax"/>
<text x="243.82" y="219.10" class="tk" text-anchor="middle" textLength="12.09" lengthAdjust="spacingAndGlyphs">42</text>
<line x1="315.55" y1="207.30" x2="315.55" y2="209.70" class="ax"/>
<text x="315.55" y="219.10" class="tk" text-anchor="middle" textLength="12.09" lengthAdjust="spacingAndGlyphs">70</text>
<text x="207.95" y="228.90" class="xl" text-anchor="middle" textLength="37.46" lengthAdjust="spacingAndGlyphs">Age (dpf)</text>
<text transform="translate(21.20,112.65) rotate(-90)" x="0" y="0" class="yl" text-anchor="middle" textLength="187.39" lengthAdjust="spacingAndGlyphs">Nearest Neighbor Pair Angle (Degrees)</text>
<text x="-0.40" y="11.40" class="pl">A</text>
<rect x="50.50" y="23.60" width="314.90" height="183.70" class="fr"/>
<rect x="319.60" y="27.20" width="41.70" height="21.80" rx="1.5" fill="#fff" fill-opacity="0.8" stroke="#e3e3e3" stroke-width="0.7"/>
<circle cx="329.20" cy="32.40" r="2.6" fill="#c71585"/>
<circle cx="329.20" cy="42.40" r="2.6" fill="#000"/>
<text x="341.60" y="34.80" class="lg" textLength="14.23" lengthAdjust="spacingAndGlyphs">Real</text>
<text x="341.60" y="44.60" class="lg" textLength="17.18" lengthAdjust="spacingAndGlyphs">Mock</text>
<line x1="430.80" y1="208.20" x2="433.20" y2="208.20" class="ax"/>
<text x="429.20" y="212.30" class="tk" text-anchor="end" textLength="6.04" lengthAdjust="spacingAndGlyphs">0</text>
<line x1="430.80" y1="187.79" x2="433.20" y2="187.79" class="ax"/>
<text x="429.20" y="191.89" class="tk" text-anchor="end" textLength="12.09" lengthAdjust="spacingAndGlyphs">20</text>
<line x1="430.80" y1="167.38" x2="433.20" y2="167.38" class="ax"/>
<text x="429.20" y="171.48" class="tk" text-anchor="end" textLength="12.09" lengthAdjust="spacingAndGlyphs">40</text>
<line x1="430.80" y1="146.97" x2="433.20" y2="146.97" class="ax"/>
<text x="429.20" y="151.07" class="tk" text-anchor="end" textLength="12.09" lengthAdjust="spacingAndGlyphs">60</text>
<line x1="430.80" y1="126.56" x2="433.20" y2="126.56" class="ax"/>
<text x="429.20" y="130.66" class="tk" text-anchor="end" textLength="12.09" lengthAdjust="spacingAndGlyphs">80</text>
<line x1="430.80" y1="106.14" x2="433.20" y2="106.14" class="ax"/>
<text x="429.20" y="110.24" class="tk" text-anchor="end" textLength="18.13" lengthAdjust="spacingAndGlyphs">100</text>
<line x1="430.80" y1="85.73" x2="433.20" y2="85.73" class="ax"/>
<text x="429.20" y="89.83" class="tk" text-anchor="end" textLength="18.13" lengthAdjust="spacingAndGlyphs">120</text>
<line x1="430.80" y1="65.32" x2="433.20" y2="65.32" class="ax"/>
<text x="429.20" y="69.42" class="tk" text-anchor="end" textLength="18.13" lengthAdjust="spacingAndGlyphs">140</text>
<line x1="430.80" y1="44.91" x2="433.20" y2="44.91" class="ax"/>
<text x="429.20" y="49.01" class="tk" text-anchor="end" textLength="18.13" lengthAdjust="spacingAndGlyphs">160</text>
<line x1="430.80" y1="24.50" x2="433.20" y2="24.50" class="ax"/>
<text x="429.20" y="28.60" class="tk" text-anchor="end" textLength="18.13" lengthAdjust="spacingAndGlyphs">180</text>
<line x1="482.94" y1="208.20" x2="482.94" y2="210.60" class="ax"/>
<text x="482.94" y="220.00" class="tk" text-anchor="middle" textLength="6.04" lengthAdjust="spacingAndGlyphs">7</text>
<line x1="554.51" y1="208.20" x2="554.51" y2="210.60" class="ax"/>
<text x="554.51" y="220.00" class="tk" text-anchor="middle" textLength="12.09" lengthAdjust="spacingAndGlyphs">28</text>
<line x1="626.09" y1="208.20" x2="626.09" y2="210.60" class="ax"/>
<text x="626.09" y="220.00" class="tk" text-anchor="middle" textLength="12.09" lengthAdjust="spacingAndGlyphs">42</text>
<line x1="697.66" y1="208.20" x2="697.66" y2="210.60" class="ax"/>
<text x="697.66" y="220.00" class="tk" text-anchor="middle" textLength="12.09" lengthAdjust="spacingAndGlyphs">70</text>
<text x="590.30" y="229.80" class="xl" text-anchor="middle" textLength="37.46" lengthAdjust="spacingAndGlyphs">Age (dpf)</text>
<text transform="translate(403.30,112.65) rotate(-90)" x="0" y="0" class="yl" text-anchor="middle" textLength="187.39" lengthAdjust="spacingAndGlyphs">Nearest Neighbor Pair Angle (Degrees)</text>
<text x="376.30" y="11.40" class="pl">B</text>
<rect x="433.20" y="24.50" width="314.20" height="183.70" class="fr"/>
<rect x="702.30" y="28.10" width="41.70" height="21.80" rx="1.5" fill="#fff" fill-opacity="0.8" stroke="#e3e3e3" stroke-width="0.7"/>
<circle cx="711.90" cy="33.30" r="2.6" fill="#800080"/>
<circle cx="711.90" cy="43.30" r="2.6" fill="#000"/>
<text x="724.30" y="35.70" class="lg" textLength="14.23" lengthAdjust="spacingAndGlyphs">Real</text>
<text x="724.30" y="45.50" class="lg" textLength="17.18" lengthAdjust="spacingAndGlyphs">Mock</text>
<line x1="48.20" y1="432.10" x2="50.60" y2="432.10" class="ax"/>
<text x="46.60" y="436.20" class="tk" text-anchor="end" textLength="6.04" lengthAdjust="spacingAndGlyphs">0</text>
<line x1="48.20" y1="411.67" x2="50.60" y2="411.67" class="ax"/>
<text x="46.60" y="415.77" class="tk" text-anchor="end" textLength="6.04" lengthAdjust="spacingAndGlyphs">1</text>
<line x1="48.20" y1="391.23" x2="50.60" y2="391.23" class="ax"/>
<text x="46.60" y="395.33" class="tk" text-anchor="end" textLength="6.04" lengthAdjust="spacingAndGlyphs">2</text>
<line x1="48.20" y1="370.80" x2="50.60" y2="370.80" class="ax"/>
<text x="46.60" y="374.90" class="tk" text-anchor="end" textLength="6.04" lengthAdjust="spacingAndGlyphs">3</text>
<line x1="48.20" y1="350.37" x2="50.60" y2="350.37" class="ax"/>
<text x="46.60" y="354.47" class="tk" text-anchor="end" textLength="6.04" lengthAdjust="spacingAndGlyphs">4</text>
<line x1="48.20" y1="329.93" x2="50.60" y2="329.93" class="ax"/>
<text x="46.60" y="334.03" class="tk" text-anchor="end" textLength="6.04" lengthAdjust="spacingAndGlyphs">5</text>
<line x1="48.20" y1="309.50" x2="50.60" y2="309.50" class="ax"/>
<text x="46.60" y="313.60" class="tk" text-anchor="end" textLength="6.04" lengthAdjust="spacingAndGlyphs">6</text>
<line x1="48.20" y1="289.07" x2="50.60" y2="289.07" class="ax"/>
<text x="46.60" y="293.17" class="tk" text-anchor="end" textLength="6.04" lengthAdjust="spacingAndGlyphs">7</text>
<line x1="48.20" y1="268.63" x2="50.60" y2="268.63" class="ax"/>
<text x="46.60" y="272.73" class="tk" text-anchor="end" textLength="6.04" lengthAdjust="spacingAndGlyphs">8</text>
<line x1="48.20" y1="248.20" x2="50.60" y2="248.20" class="ax"/>
<text x="46.60" y="252.30" class="tk" text-anchor="end" textLength="6.04" lengthAdjust="spacingAndGlyphs">9</text>
<line x1="100.42" y1="432.10" x2="100.42" y2="434.50" class="ax"/>
<text x="100.42" y="443.90" class="tk" text-anchor="middle" textLength="6.04" lengthAdjust="spacingAndGlyphs">7</text>
<line x1="172.11" y1="432.10" x2="172.11" y2="434.50" class="ax"/>
<text x="172.11" y="443.90" class="tk" text-anchor="middle" textLength="12.09" lengthAdjust="spacingAndGlyphs">28</text>
<line x1="243.79" y1="432.10" x2="243.79" y2="434.50" class="ax"/>
<text x="243.79" y="443.90" class="tk" text-anchor="middle" textLength="12.09" lengthAdjust="spacingAndGlyphs">42</text>
<line x1="315.48" y1="432.10" x2="315.48" y2="434.50" class="ax"/>
<text x="315.48" y="443.90" class="tk" text-anchor="middle" textLength="12.09" lengthAdjust="spacingAndGlyphs">70</text>
<text x="207.95" y="453.70" class="xl" text-anchor="middle" textLength="37.46" lengthAdjust="spacingAndGlyphs">Age (dpf)</text>
<text transform="translate(21.40,341.15) rotate(-90)" x="0" y="0" class="yl" text-anchor="middle" textLength="206.74" lengthAdjust="spacingAndGlyphs">Nearest Neighbor Distance (Body Lengths)</text>
<text x="0.40" y="236.70" class="pl">C</text>
<rect x="50.60" y="248.20" width="314.70" height="183.90" class="fr"/>
<rect x="319.50" y="251.80" width="41.70" height="21.80" rx="1.5" fill="#fff" fill-opacity="0.8" stroke="#e3e3e3" stroke-width="0.7"/>
<circle cx="329.10" cy="257.00" r="2.6" fill="#c71585"/>
<circle cx="329.10" cy="267.00" r="2.6" fill="#000"/>
<text x="341.50" y="259.40" class="lg" textLength="14.23" lengthAdjust="spacingAndGlyphs">Real</text>
<text x="341.50" y="269.20" class="lg" textLength="17.18" lengthAdjust="spacingAndGlyphs">Mock</text>
<line x1="429.90" y1="431.10" x2="432.30" y2="431.10" class="ax"/>
<text x="428.30" y="435.20" class="tk" text-anchor="end" textLength="6.04" lengthAdjust="spacingAndGlyphs">0</text>
<line x1="429.90" y1="410.66" x2="432.30" y2="410.66" class="ax"/>
<text x="428.30" y="414.76" class="tk" text-anchor="end" textLength="6.04" lengthAdjust="spacingAndGlyphs">1</text>
<line x1="429.90" y1="390.21" x2="432.30" y2="390.21" class="ax"/>
<text x="428.30" y="394.31" class="tk" text-anchor="end" textLength="6.04" lengthAdjust="spacingAndGlyphs">2</text>
<line x1="429.90" y1="369.77" x2="432.30" y2="369.77" class="ax"/>
<text x="428.30" y="373.87" class="tk" text-anchor="end" textLength="6.04" lengthAdjust="spacingAndGlyphs">3</text>
<line x1="429.90" y1="349.32" x2="432.30" y2="349.32" class="ax"/>
<text x="428.30" y="353.42" class="tk" text-anchor="end" textLength="6.04" lengthAdjust="spacingAndGlyphs">4</text>
<line x1="429.90" y1="328.88" x2="432.30" y2="328.88" class="ax"/>
<text x="428.30" y="332.98" class="tk" text-anchor="end" textLength="6.04" lengthAdjust="spacingAndGlyphs">5</text>
<line x1="429.90" y1="308.43" x2="432.30" y2="308.43" class="ax"/>
<text x="428.30" y="312.53" class="tk" text-anchor="end" textLength="6.04" lengthAdjust="spacingAndGlyphs">6</text>
<line x1="429.90" y1="287.99" x2="432.30" y2="287.99" class="ax"/>
<text x="428.30" y="292.09" class="tk" text-anchor="end" textLength="6.04" lengthAdjust="spacingAndGlyphs">7</text>
<line x1="429.90" y1="267.54" x2="432.30" y2="267.54" class="ax"/>
<text x="428.30" y="271.64" class="tk" text-anchor="end" textLength="6.04" lengthAdjust="spacingAndGlyphs">8</text>
<line x1="429.90" y1="247.10" x2="432.30" y2="247.10" class="ax"/>
<text x="428.30" y="251.20" class="tk" text-anchor="end" textLength="6.04" lengthAdjust="spacingAndGlyphs">9</text>
<line x1="482.18" y1="431.10" x2="482.18" y2="433.50" class="ax"/>
<text x="482.18" y="442.90" class="tk" text-anchor="middle" textLength="6.04" lengthAdjust="spacingAndGlyphs">7</text>
<line x1="553.96" y1="431.10" x2="553.96" y2="433.50" class="ax"/>
<text x="553.96" y="442.90" class="tk" text-anchor="middle" textLength="12.09" lengthAdjust="spacingAndGlyphs">28</text>
<line x1="625.74" y1="431.10" x2="625.74" y2="433.50" class="ax"/>
<text x="625.74" y="442.90" class="tk" text-anchor="middle" textLength="12.09" lengthAdjust="spacingAndGlyphs">42</text>
<line x1="697.52" y1="431.10" x2="697.52" y2="433.50" class="ax"/>
<text x="697.52" y="442.90" class="tk" text-anchor="middle" textLength="12.09" lengthAdjust="spacingAndGlyphs">70</text>
<text x="589.85" y="452.70" class="xl" text-anchor="middle" textLength="37.46" lengthAdjust="spacingAndGlyphs">Age (dpf)</text>
<text transform="translate(403.60,342.05) rotate(-90)" x="0" y="0" class="yl" text-anchor="middle" textLength="206.74" lengthAdjust="spacingAndGlyphs">Nearest Neighbor Distance (Body Lengths)</text>
<text x="376.50" y="236.60" class="pl">D</text>
<rect x="432.30" y="247.10" width="315.10" height="184.00" class="fr"/>
<rect x="701.60" y="250.70" width="41.70" height="21.80" rx="1.5" fill="#fff" fill-opacity="0.8" stroke="#e3e3e3" stroke-width="0.7"/>
<circle cx="711.20" cy="255.90" r="2.6" fill="#800080"/>
<circle cx="711.20" cy="265.90" r="2.6" fill="#000"/>
<text x="723.60" y="258.30" class="lg" textLength="14.23" lengthAdjust="spacingAndGlyphs">Real</text>
<text x="723.60" y="268.10" class="lg" textLength="17.18" lengthAdjust="spacingAndGlyphs">Mock</text>
<line x1="49.00" y1="651.70" x2="51.40" y2="651.70" class="ax"/>
<text x="47.40" y="655.80" class="tk" text-anchor="end" textLength="15.11" lengthAdjust="spacingAndGlyphs">0.0</text>
<line x1="49.00" y1="628.76" x2="51.40" y2="628.76" class="ax"/>
<text x="47.40" y="632.86" class="tk" text-anchor="end" textLength="15.11" lengthAdjust="spacingAndGlyphs">2.5</text>
<line x1="49.00" y1="605.83" x2="51.40" y2="605.83" class="ax"/>
<text x="47.40" y="609.93" class="tk" text-anchor="end" textLength="15.11" lengthAdjust="spacingAndGlyphs">5.0</text>
<line x1="49.00" y1="582.89" x2="51.40" y2="582.89" class="ax"/>
<text x="47.40" y="586.99" class="tk" text-anchor="end" textLength="15.11" lengthAdjust="spacingAndGlyphs">7.5</text>
<line x1="49.00" y1="559.95" x2="51.40" y2="559.95" class="ax"/>
<text x="47.40" y="564.05" class="tk" text-anchor="end" textLength="21.15" lengthAdjust="spacingAndGlyphs">10.0</text>
<line x1="49.00" y1="537.01" x2="51.40" y2="537.01" class="ax"/>
<text x="47.40" y="541.11" class="tk" text-anchor="end" textLength="21.15" lengthAdjust="spacingAndGlyphs">12.5</text>
<line x1="49.00" y1="514.08" x2="51.40" y2="514.08" class="ax"/>
<text x="47.40" y="518.18" class="tk" text-anchor="end" textLength="21.15" lengthAdjust="spacingAndGlyphs">15.0</text>
<line x1="49.00" y1="491.14" x2="51.40" y2="491.14" class="ax"/>
<text x="47.40" y="495.24" class="tk" text-anchor="end" textLength="21.15" lengthAdjust="spacingAndGlyphs">17.5</text>
<line x1="49.00" y1="468.20" x2="51.40" y2="468.20" class="ax"/>
<text x="47.40" y="472.30" class="tk" text-anchor="end" textLength="21.15" lengthAdjust="spacingAndGlyphs">20.0</text>
<line x1="101.14" y1="651.70" x2="101.14" y2="654.10" class="ax"/>
<text x="101.14" y="663.50" class="tk" text-anchor="middle" textLength="6.04" lengthAdjust="spacingAndGlyphs">7</text>
<line x1="172.71" y1="651.70" x2="172.71" y2="654.10" class="ax"/>
<text x="172.71" y="663.50" class="tk" text-anchor="middle" textLength="12.09" lengthAdjust="spacingAndGlyphs">28</text>
<line x1="244.29" y1="651.70" x2="244.29" y2="654.10" class="ax"/>
<text x="244.29" y="663.50" class="tk" text-anchor="middle" textLength="12.09" lengthAdjust="spacingAndGlyphs">42</text>
<line x1="315.86" y1="651.70" x2="315.86" y2="654.10" class="ax"/>
<text x="315.86" y="663.50" class="tk" text-anchor="middle" textLength="12.09" lengthAdjust="spacingAndGlyphs">70</text>
<text x="208.50" y="673.30" class="xl" text-anchor="middle" textLength="37.46" lengthAdjust="spacingAndGlyphs">Age (dpf)</text>
<text transform="translate(21.40,560.05) rotate(-90)" x="0" y="0" class="yl" text-anchor="middle" textLength="191.48" lengthAdjust="spacingAndGlyphs">Interindividual Distance (Body Lengths)</text>
<text x="0.20" y="459.60" class="pl">E</text>
<rect x="51.40" y="468.20" width="314.20" height="183.50" class="fr"/>
<rect x="320.50" y="471.80" width="41.70" height="21.80" rx="1.5" fill="#fff" fill-opacity="0.8" stroke="#e3e3e3" stroke-width="0.7"/>
<circle cx="330.10" cy="477.00" r="2.6" fill="#c71585"/>
<circle cx="330.10" cy="487.00" r="2.6" fill="#000"/>
<text x="342.50" y="479.40" class="lg" textLength="14.23" lengthAdjust="spacingAndGlyphs">Real</text>
<text x="342.50" y="489.20" class="lg" textLength="17.18" lengthAdjust="spacingAndGlyphs">Mock</text>
<line x1="431.10" y1="651.70" x2="433.50" y2="651.70" class="ax"/>
<text x="429.50" y="655.80" class="tk" text-anchor="end" textLength="15.11" lengthAdjust="spacingAndGlyphs">0.0</text>
<line x1="431.10" y1="628.76" x2="433.50" y2="628.76" class="ax"/>
<text x="429.50" y="632.86" class="tk" text-anchor="end" textLength="15.11" lengthAdjust="spacingAndGlyphs">2.5</text>
<line x1="431.10" y1="605.83" x2="433.50" y2="605.83" class="ax"/>
<text x="429.50" y="609.93" class="tk" text-anchor="end" textLength="15.11" lengthAdjust="spacingAndGlyphs">5.0</text>
<line x1="431.10" y1="582.89" x2="433.50" y2="582.89" class="ax"/>
<text x="429.50" y="586.99" class="tk" text-anchor="end" textLength="15.11" lengthAdjust="spacingAndGlyphs">7.5</text>
<line x1="431.10" y1="559.95" x2="433.50" y2="559.95" class="ax"/>
<text x="429.50" y="564.05" class="tk" text-anchor="end" textLength="21.15" lengthAdjust="spacingAndGlyphs">10.0</text>
<line x1="431.10" y1="537.01" x2="433.50" y2="537.01" class="ax"/>
<text x="429.50" y="541.11" class="tk" text-anchor="end" textLength="21.15" lengthAdjust="spacingAndGlyphs">12.5</text>
<line x1="431.10" y1="514.08" x2="433.50" y2="514.08" class="ax"/>
<text x="429.50" y="518.18" class="tk" text-anchor="end" textLength="21.15" lengthAdjust="spacingAndGlyphs">15.0</text>
<line x1="431.10" y1="491.14" x2="433.50" y2="491.14" class="ax"/>
<text x="429.50" y="495.24" class="tk" text-anchor="end" textLength="21.15" lengthAdjust="spacingAndGlyphs">17.5</text>
<line x1="431.10" y1="468.20" x2="433.50" y2="468.20" class="ax"/>
<text x="429.50" y="472.30" class="tk" text-anchor="end" textLength="21.15" lengthAdjust="spacingAndGlyphs">20.0</text>
<line x1="483.19" y1="651.70" x2="483.19" y2="654.10" class="ax"/>
<text x="483.19" y="663.50" class="tk" text-anchor="middle" textLength="6.04" lengthAdjust="spacingAndGlyphs">7</text>
<line x1="554.70" y1="651.70" x2="554.70" y2="654.10" class="ax"/>
<text x="554.70" y="663.50" class="tk" text-anchor="middle" textLength="12.09" lengthAdjust="spacingAndGlyphs">28</text>
<line x1="626.20" y1="651.70" x2="626.20" y2="654.10" class="ax"/>
<text x="626.20" y="663.50" class="tk" text-anchor="middle" textLength="12.09" lengthAdjust="spacingAndGlyphs">42</text>
<line x1="697.71" y1="651.70" x2="697.71" y2="654.10" class="ax"/>
<text x="697.71" y="663.50" class="tk" text-anchor="middle" textLength="12.09" lengthAdjust="spacingAndGlyphs">70</text>
<text x="590.45" y="673.30" class="xl" text-anchor="middle" textLength="37.46" lengthAdjust="spacingAndGlyphs">Age (dpf)</text>
<text transform="translate(403.60,560.30) rotate(-90)" x="0" y="0" class="yl" text-anchor="middle" textLength="191.48" lengthAdjust="spacingAndGlyphs">Interindividual Distance (Body Lengths)</text>
<text x="376.20" y="459.70" class="pl">F</text>
<rect x="433.50" y="468.20" width="313.90" height="183.50" class="fr"/>
<rect x="702.50" y="471.80" width="41.70" height="21.80" rx="1.5" fill="#fff" fill-opacity="0.8" stroke="#e3e3e3" stroke-width="0.7"/>
<circle cx="712.10" cy="477.00" r="2.6" fill="#800080"/>
<circle cx="712.10" cy="487.00" r="2.6" fill="#000"/>
<text x="724.50" y="479.40" class="lg" textLength="14.23" lengthAdjust="spacingAndGlyphs">Real</text>
<text x="724.50" y="489.20" class="lg" textLength="17.18" lengthAdjust="spacingAndGlyphs">Mock</text>
</svg>
</body></html>
